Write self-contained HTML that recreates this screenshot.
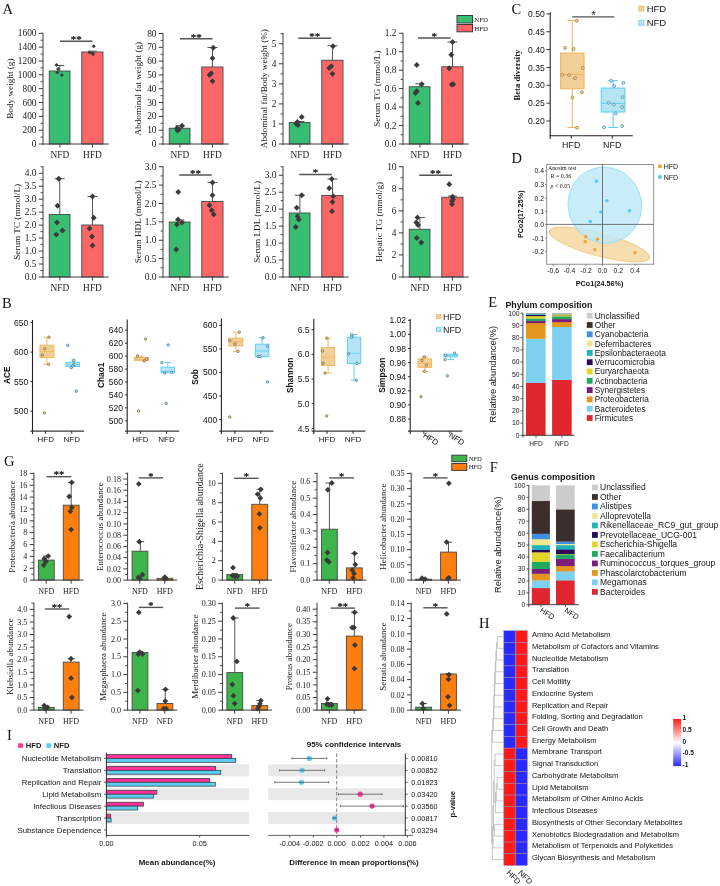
<!DOCTYPE html>
<html lang="en"><head><meta charset="utf-8"><title>Figure</title>
<style>
html,body{margin:0;padding:0;background:#fff}
svg{display:block}
.sf{font-family:"Liberation Serif",serif}
.ss{font-family:"Liberation Sans",sans-serif}

</style></head><body>
<svg width="720" height="886" viewBox="0 0 720 886">
<rect x="0" y="0" width="720" height="886" fill="#ffffff"/>
<rect x="49.25" y="71" width="20.75" height="73" fill="#38bd72" stroke="#484848" stroke-width="0.9"/>
<rect x="81.75" y="52" width="21.25" height="92" fill="#ff6666" stroke="#484848" stroke-width="0.9"/>
<line x1="59.75" y1="65.5" x2="59.75" y2="71" stroke="#555" stroke-width="1"/>
<line x1="55.25" y1="65.5" x2="64.25" y2="65.5" stroke="#555" stroke-width="1"/>
<line x1="92.5" y1="51.2" x2="92.5" y2="52" stroke="#555" stroke-width="1"/>
<line x1="88" y1="51.2" x2="97" y2="51.2" stroke="#555" stroke-width="1"/>
<path d="M56.5 63.1L58.5 65.1L56.5 67.1L54.5 65.1Z" fill="#3a3a3a"/>
<path d="M58.1 67.1L60.1 69.1L58.1 71.1L56.1 69.1Z" fill="#3a3a3a"/>
<path d="M57.4 70.4L59.4 72.4L57.4 74.4L55.4 72.4Z" fill="#3a3a3a"/>
<path d="M61.9 73.1L63.9 75.1L61.9 77.1L59.9 75.1Z" fill="#3a3a3a"/>
<path d="M93.75 44.25L95.75 46.25L93.75 48.25L91.75 46.25Z" fill="#3a3a3a"/>
<path d="M89.5 50.5L91.5 52.5L89.5 54.5L87.5 52.5Z" fill="#3a3a3a"/>
<path d="M92.5 51.25L94.5 53.25L92.5 55.25L90.5 53.25Z" fill="#3a3a3a"/>
<path d="M93 52.25L95 54.25L93 56.25L91 54.25Z" fill="#3a3a3a"/>
<line x1="43" y1="32.8" x2="43" y2="144.5" stroke="#3c3c3c" stroke-width="1"/>
<line x1="42.5" y1="144" x2="108.75" y2="144" stroke="#3c3c3c" stroke-width="1"/>
<line x1="38.8" y1="144" x2="43" y2="144" stroke="#3c3c3c" stroke-width="1"/>
<text x="36.5" y="147.1" font-size="9.4" text-anchor="end" class="sf" fill="#1a1a1a">0</text>
<line x1="38.8" y1="130.16" x2="43" y2="130.16" stroke="#3c3c3c" stroke-width="1"/>
<text x="36.5" y="133.26" font-size="9.4" text-anchor="end" class="sf" fill="#1a1a1a">200</text>
<line x1="38.8" y1="116.33" x2="43" y2="116.33" stroke="#3c3c3c" stroke-width="1"/>
<text x="36.5" y="119.43" font-size="9.4" text-anchor="end" class="sf" fill="#1a1a1a">400</text>
<line x1="38.8" y1="102.49" x2="43" y2="102.49" stroke="#3c3c3c" stroke-width="1"/>
<text x="36.5" y="105.59" font-size="9.4" text-anchor="end" class="sf" fill="#1a1a1a">600</text>
<line x1="38.8" y1="88.65" x2="43" y2="88.65" stroke="#3c3c3c" stroke-width="1"/>
<text x="36.5" y="91.75" font-size="9.4" text-anchor="end" class="sf" fill="#1a1a1a">800</text>
<line x1="38.8" y1="74.81" x2="43" y2="74.81" stroke="#3c3c3c" stroke-width="1"/>
<text x="36.5" y="77.91" font-size="9.4" text-anchor="end" class="sf" fill="#1a1a1a">1000</text>
<line x1="38.8" y1="60.97" x2="43" y2="60.97" stroke="#3c3c3c" stroke-width="1"/>
<text x="36.5" y="64.08" font-size="9.4" text-anchor="end" class="sf" fill="#1a1a1a">1200</text>
<line x1="38.8" y1="47.14" x2="43" y2="47.14" stroke="#3c3c3c" stroke-width="1"/>
<text x="36.5" y="50.24" font-size="9.4" text-anchor="end" class="sf" fill="#1a1a1a">1400</text>
<line x1="38.8" y1="33.3" x2="43" y2="33.3" stroke="#3c3c3c" stroke-width="1"/>
<text x="36.5" y="36.4" font-size="9.4" text-anchor="end" class="sf" fill="#1a1a1a">1600</text>
<line x1="40.5" y1="137.08" x2="43" y2="137.08" stroke="#3c3c3c" stroke-width="0.9"/>
<line x1="40.5" y1="123.24" x2="43" y2="123.24" stroke="#3c3c3c" stroke-width="0.9"/>
<line x1="40.5" y1="109.41" x2="43" y2="109.41" stroke="#3c3c3c" stroke-width="0.9"/>
<line x1="40.5" y1="95.57" x2="43" y2="95.57" stroke="#3c3c3c" stroke-width="0.9"/>
<line x1="40.5" y1="81.73" x2="43" y2="81.73" stroke="#3c3c3c" stroke-width="0.9"/>
<line x1="40.5" y1="67.89" x2="43" y2="67.89" stroke="#3c3c3c" stroke-width="0.9"/>
<line x1="40.5" y1="54.06" x2="43" y2="54.06" stroke="#3c3c3c" stroke-width="0.9"/>
<line x1="40.5" y1="40.22" x2="43" y2="40.22" stroke="#3c3c3c" stroke-width="0.9"/>
<line x1="59.9" y1="144" x2="59.9" y2="147.6" stroke="#3c3c3c" stroke-width="1"/>
<text x="59.9" y="157.5" font-size="9.4" text-anchor="middle" class="sf" fill="#1a1a1a">NFD</text>
<line x1="92.5" y1="144" x2="92.5" y2="147.6" stroke="#3c3c3c" stroke-width="1"/>
<text x="92.5" y="157.5" font-size="9.4" text-anchor="middle" class="sf" fill="#1a1a1a">HFD</text>
<line x1="60" y1="41.25" x2="92.5" y2="41.25" stroke="#555" stroke-width="1.4"/>
<text x="76.25" y="43.12" font-size="11" text-anchor="middle" class="sf" fill="#1a1a1a" stroke="#1a1a1a" stroke-width="0.25">**</text>
<text x="13.1" y="88.65" font-size="9.2" text-anchor="middle" class="sf" fill="#1a1a1a" transform="rotate(-90 13.1 88.65)">Body weight (g)</text>
<rect x="169.25" y="128.25" width="20.75" height="15.75" fill="#38bd72" stroke="#484848" stroke-width="0.9"/>
<rect x="201.75" y="67" width="21.25" height="77" fill="#ff6666" stroke="#484848" stroke-width="0.9"/>
<line x1="179.9" y1="125.75" x2="179.9" y2="128.25" stroke="#555" stroke-width="1"/>
<line x1="175.4" y1="125.75" x2="184.4" y2="125.75" stroke="#555" stroke-width="1"/>
<line x1="212.5" y1="47.5" x2="212.5" y2="67" stroke="#555" stroke-width="1"/>
<line x1="207.5" y1="47.5" x2="217.5" y2="47.5" stroke="#555" stroke-width="1"/>
<path d="M182 122.85L184.9 125.75L182 128.65L179.1 125.75Z" fill="#3a3a3a"/>
<path d="M177 125.35L179.9 128.25L177 131.15L174.1 128.25Z" fill="#3a3a3a"/>
<path d="M178.75 126.6L181.65 129.5L178.75 132.4L175.85 129.5Z" fill="#3a3a3a"/>
<path d="M177.5 127.6L180.4 130.5L177.5 133.4L174.6 130.5Z" fill="#3a3a3a"/>
<path d="M213.25 44.85L216.15 47.75L213.25 50.65L210.35 47.75Z" fill="#3a3a3a"/>
<path d="M212.5 55.35L215.4 58.25L212.5 61.15L209.6 58.25Z" fill="#3a3a3a"/>
<path d="M211.25 70.35L214.15 73.25L211.25 76.15L208.35 73.25Z" fill="#3a3a3a"/>
<path d="M209.5 72.1L212.4 75L209.5 77.9L206.6 75Z" fill="#3a3a3a"/>
<path d="M212.5 78.35L215.4 81.25L212.5 84.15L209.6 81.25Z" fill="#3a3a3a"/>
<line x1="163" y1="32.8" x2="163" y2="144.5" stroke="#3c3c3c" stroke-width="1"/>
<line x1="162.5" y1="144" x2="228.75" y2="144" stroke="#3c3c3c" stroke-width="1"/>
<line x1="158.8" y1="144" x2="163" y2="144" stroke="#3c3c3c" stroke-width="1"/>
<text x="156.5" y="147.1" font-size="9.4" text-anchor="end" class="sf" fill="#1a1a1a">0</text>
<line x1="158.8" y1="130.19" x2="163" y2="130.19" stroke="#3c3c3c" stroke-width="1"/>
<text x="156.5" y="133.29" font-size="9.4" text-anchor="end" class="sf" fill="#1a1a1a">10</text>
<line x1="158.8" y1="116.38" x2="163" y2="116.38" stroke="#3c3c3c" stroke-width="1"/>
<text x="156.5" y="119.48" font-size="9.4" text-anchor="end" class="sf" fill="#1a1a1a">20</text>
<line x1="158.8" y1="102.56" x2="163" y2="102.56" stroke="#3c3c3c" stroke-width="1"/>
<text x="156.5" y="105.66" font-size="9.4" text-anchor="end" class="sf" fill="#1a1a1a">30</text>
<line x1="158.8" y1="88.75" x2="163" y2="88.75" stroke="#3c3c3c" stroke-width="1"/>
<text x="156.5" y="91.85" font-size="9.4" text-anchor="end" class="sf" fill="#1a1a1a">40</text>
<line x1="158.8" y1="74.94" x2="163" y2="74.94" stroke="#3c3c3c" stroke-width="1"/>
<text x="156.5" y="78.04" font-size="9.4" text-anchor="end" class="sf" fill="#1a1a1a">50</text>
<line x1="158.8" y1="61.12" x2="163" y2="61.12" stroke="#3c3c3c" stroke-width="1"/>
<text x="156.5" y="64.23" font-size="9.4" text-anchor="end" class="sf" fill="#1a1a1a">60</text>
<line x1="158.8" y1="47.31" x2="163" y2="47.31" stroke="#3c3c3c" stroke-width="1"/>
<text x="156.5" y="50.41" font-size="9.4" text-anchor="end" class="sf" fill="#1a1a1a">70</text>
<line x1="158.8" y1="33.5" x2="163" y2="33.5" stroke="#3c3c3c" stroke-width="1"/>
<text x="156.5" y="36.6" font-size="9.4" text-anchor="end" class="sf" fill="#1a1a1a">80</text>
<line x1="160.5" y1="137.09" x2="163" y2="137.09" stroke="#3c3c3c" stroke-width="0.9"/>
<line x1="160.5" y1="123.28" x2="163" y2="123.28" stroke="#3c3c3c" stroke-width="0.9"/>
<line x1="160.5" y1="109.47" x2="163" y2="109.47" stroke="#3c3c3c" stroke-width="0.9"/>
<line x1="160.5" y1="95.66" x2="163" y2="95.66" stroke="#3c3c3c" stroke-width="0.9"/>
<line x1="160.5" y1="81.84" x2="163" y2="81.84" stroke="#3c3c3c" stroke-width="0.9"/>
<line x1="160.5" y1="68.03" x2="163" y2="68.03" stroke="#3c3c3c" stroke-width="0.9"/>
<line x1="160.5" y1="54.22" x2="163" y2="54.22" stroke="#3c3c3c" stroke-width="0.9"/>
<line x1="160.5" y1="40.41" x2="163" y2="40.41" stroke="#3c3c3c" stroke-width="0.9"/>
<line x1="179.9" y1="144" x2="179.9" y2="147.6" stroke="#3c3c3c" stroke-width="1"/>
<text x="179.9" y="157.5" font-size="9.4" text-anchor="middle" class="sf" fill="#1a1a1a">NFD</text>
<line x1="212.5" y1="144" x2="212.5" y2="147.6" stroke="#3c3c3c" stroke-width="1"/>
<text x="212.5" y="157.5" font-size="9.4" text-anchor="middle" class="sf" fill="#1a1a1a">HFD</text>
<line x1="180" y1="38.75" x2="212.5" y2="38.75" stroke="#555" stroke-width="1.4"/>
<text x="196.25" y="40.62" font-size="11" text-anchor="middle" class="sf" fill="#1a1a1a" stroke="#1a1a1a" stroke-width="0.25">**</text>
<text x="141.1" y="88.65" font-size="9.2" text-anchor="middle" class="sf" fill="#1a1a1a" transform="rotate(-90 141.1 88.65)">Abdominal fat weight (g)</text>
<rect x="289.25" y="122.5" width="20.75" height="21.5" fill="#38bd72" stroke="#484848" stroke-width="0.9"/>
<rect x="321.75" y="60.25" width="21.25" height="83.75" fill="#ff6666" stroke="#484848" stroke-width="0.9"/>
<line x1="299.9" y1="121.5" x2="299.9" y2="122.5" stroke="#555" stroke-width="1"/>
<line x1="295.4" y1="121.5" x2="304.4" y2="121.5" stroke="#555" stroke-width="1"/>
<line x1="332.5" y1="45.75" x2="332.5" y2="60.25" stroke="#555" stroke-width="1"/>
<line x1="327.5" y1="45.75" x2="337.5" y2="45.75" stroke="#555" stroke-width="1"/>
<path d="M301.75 114.1L304.65 117L301.75 119.9L298.85 117Z" fill="#3a3a3a"/>
<path d="M297.5 119.1L300.4 122L297.5 124.9L294.6 122Z" fill="#3a3a3a"/>
<path d="M296.25 120.85L299.15 123.75L296.25 126.65L293.35 123.75Z" fill="#3a3a3a"/>
<path d="M298 122.1L300.9 125L298 127.9L295.1 125Z" fill="#3a3a3a"/>
<path d="M333 43.35L335.9 46.25L333 49.15L330.1 46.25Z" fill="#3a3a3a"/>
<path d="M331.25 63.35L334.15 66.25L331.25 69.15L328.35 66.25Z" fill="#3a3a3a"/>
<path d="M329.25 65.1L332.15 68L329.25 70.9L326.35 68Z" fill="#3a3a3a"/>
<path d="M332.5 70.85L335.4 73.75L332.5 76.65L329.6 73.75Z" fill="#3a3a3a"/>
<line x1="283" y1="32.8" x2="283" y2="144.5" stroke="#3c3c3c" stroke-width="1"/>
<line x1="282.5" y1="144" x2="348.75" y2="144" stroke="#3c3c3c" stroke-width="1"/>
<line x1="278.8" y1="144" x2="283" y2="144" stroke="#3c3c3c" stroke-width="1"/>
<text x="276.5" y="147.1" font-size="9.4" text-anchor="end" class="sf" fill="#1a1a1a">0</text>
<line x1="278.8" y1="123.95" x2="283" y2="123.95" stroke="#3c3c3c" stroke-width="1"/>
<text x="276.5" y="127.05" font-size="9.4" text-anchor="end" class="sf" fill="#1a1a1a">1</text>
<line x1="278.8" y1="103.9" x2="283" y2="103.9" stroke="#3c3c3c" stroke-width="1"/>
<text x="276.5" y="107" font-size="9.4" text-anchor="end" class="sf" fill="#1a1a1a">2</text>
<line x1="278.8" y1="83.85" x2="283" y2="83.85" stroke="#3c3c3c" stroke-width="1"/>
<text x="276.5" y="86.95" font-size="9.4" text-anchor="end" class="sf" fill="#1a1a1a">3</text>
<line x1="278.8" y1="63.8" x2="283" y2="63.8" stroke="#3c3c3c" stroke-width="1"/>
<text x="276.5" y="66.9" font-size="9.4" text-anchor="end" class="sf" fill="#1a1a1a">4</text>
<line x1="278.8" y1="43.75" x2="283" y2="43.75" stroke="#3c3c3c" stroke-width="1"/>
<text x="276.5" y="46.85" font-size="9.4" text-anchor="end" class="sf" fill="#1a1a1a">5</text>
<line x1="280.5" y1="133.97" x2="283" y2="133.97" stroke="#3c3c3c" stroke-width="0.9"/>
<line x1="280.5" y1="113.92" x2="283" y2="113.92" stroke="#3c3c3c" stroke-width="0.9"/>
<line x1="280.5" y1="93.88" x2="283" y2="93.88" stroke="#3c3c3c" stroke-width="0.9"/>
<line x1="280.5" y1="73.83" x2="283" y2="73.83" stroke="#3c3c3c" stroke-width="0.9"/>
<line x1="280.5" y1="53.78" x2="283" y2="53.78" stroke="#3c3c3c" stroke-width="0.9"/>
<line x1="280.5" y1="33.72" x2="283" y2="33.72" stroke="#3c3c3c" stroke-width="0.9"/>
<line x1="299.9" y1="144" x2="299.9" y2="147.6" stroke="#3c3c3c" stroke-width="1"/>
<text x="299.9" y="157.5" font-size="9.4" text-anchor="middle" class="sf" fill="#1a1a1a">NFD</text>
<line x1="332.5" y1="144" x2="332.5" y2="147.6" stroke="#3c3c3c" stroke-width="1"/>
<text x="332.5" y="157.5" font-size="9.4" text-anchor="middle" class="sf" fill="#1a1a1a">HFD</text>
<line x1="298.25" y1="38.25" x2="331.25" y2="38.25" stroke="#555" stroke-width="1.4"/>
<text x="314.75" y="40.12" font-size="11" text-anchor="middle" class="sf" fill="#1a1a1a" stroke="#1a1a1a" stroke-width="0.25">**</text>
<text x="266.8" y="88.65" font-size="9.2" text-anchor="middle" class="sf" fill="#1a1a1a" transform="rotate(-90 266.8 88.65)">Abdominal fat/Body weight (%)</text>
<rect x="409.25" y="86.75" width="20.75" height="57.25" fill="#38bd72" stroke="#484848" stroke-width="0.9"/>
<rect x="441.75" y="66.75" width="21.25" height="77.25" fill="#ff6666" stroke="#484848" stroke-width="0.9"/>
<line x1="419.9" y1="83.75" x2="419.9" y2="86.75" stroke="#555" stroke-width="1"/>
<line x1="415.4" y1="83.75" x2="424.4" y2="83.75" stroke="#555" stroke-width="1"/>
<line x1="452.5" y1="42" x2="452.5" y2="66.75" stroke="#555" stroke-width="1"/>
<line x1="447.5" y1="42" x2="457.5" y2="42" stroke="#555" stroke-width="1"/>
<path d="M416.75 62.1L419.65 65L416.75 67.9L413.85 65Z" fill="#3a3a3a"/>
<path d="M421.75 81.35L424.65 84.25L421.75 87.15L418.85 84.25Z" fill="#3a3a3a"/>
<path d="M416.75 88.35L419.65 91.25L416.75 94.15L413.85 91.25Z" fill="#3a3a3a"/>
<path d="M415.5 90.1L418.4 93L415.5 95.9L412.6 93Z" fill="#3a3a3a"/>
<path d="M418 100.1L420.9 103L418 105.9L415.1 103Z" fill="#3a3a3a"/>
<path d="M452.5 39.1L455.4 42L452.5 44.9L449.6 42Z" fill="#3a3a3a"/>
<path d="M451.25 51.85L454.15 54.75L451.25 57.65L448.35 54.75Z" fill="#3a3a3a"/>
<path d="M449.25 65.35L452.15 68.25L449.25 71.15L446.35 68.25Z" fill="#3a3a3a"/>
<path d="M451.75 81.6L454.65 84.5L451.75 87.4L448.85 84.5Z" fill="#3a3a3a"/>
<path d="M453.25 81.35L456.15 84.25L453.25 87.15L450.35 84.25Z" fill="#3a3a3a"/>
<line x1="403" y1="32.8" x2="403" y2="144.5" stroke="#3c3c3c" stroke-width="1"/>
<line x1="402.5" y1="144" x2="468.75" y2="144" stroke="#3c3c3c" stroke-width="1"/>
<line x1="398.8" y1="144" x2="403" y2="144" stroke="#3c3c3c" stroke-width="1"/>
<text x="396.5" y="147.1" font-size="9.4" text-anchor="end" class="sf" fill="#1a1a1a">0.0</text>
<line x1="398.8" y1="125.54" x2="403" y2="125.54" stroke="#3c3c3c" stroke-width="1"/>
<text x="396.5" y="128.64" font-size="9.4" text-anchor="end" class="sf" fill="#1a1a1a">0.2</text>
<line x1="398.8" y1="107.08" x2="403" y2="107.08" stroke="#3c3c3c" stroke-width="1"/>
<text x="396.5" y="110.19" font-size="9.4" text-anchor="end" class="sf" fill="#1a1a1a">0.4</text>
<line x1="398.8" y1="88.62" x2="403" y2="88.62" stroke="#3c3c3c" stroke-width="1"/>
<text x="396.5" y="91.73" font-size="9.4" text-anchor="end" class="sf" fill="#1a1a1a">0.6</text>
<line x1="398.8" y1="70.17" x2="403" y2="70.17" stroke="#3c3c3c" stroke-width="1"/>
<text x="396.5" y="73.27" font-size="9.4" text-anchor="end" class="sf" fill="#1a1a1a">0.8</text>
<line x1="398.8" y1="51.71" x2="403" y2="51.71" stroke="#3c3c3c" stroke-width="1"/>
<text x="396.5" y="54.81" font-size="9.4" text-anchor="end" class="sf" fill="#1a1a1a">1.0</text>
<line x1="398.8" y1="33.25" x2="403" y2="33.25" stroke="#3c3c3c" stroke-width="1"/>
<text x="396.5" y="36.35" font-size="9.4" text-anchor="end" class="sf" fill="#1a1a1a">1.2</text>
<line x1="400.5" y1="134.77" x2="403" y2="134.77" stroke="#3c3c3c" stroke-width="0.9"/>
<line x1="400.5" y1="116.31" x2="403" y2="116.31" stroke="#3c3c3c" stroke-width="0.9"/>
<line x1="400.5" y1="97.85" x2="403" y2="97.85" stroke="#3c3c3c" stroke-width="0.9"/>
<line x1="400.5" y1="79.4" x2="403" y2="79.4" stroke="#3c3c3c" stroke-width="0.9"/>
<line x1="400.5" y1="60.94" x2="403" y2="60.94" stroke="#3c3c3c" stroke-width="0.9"/>
<line x1="400.5" y1="42.48" x2="403" y2="42.48" stroke="#3c3c3c" stroke-width="0.9"/>
<line x1="419.9" y1="144" x2="419.9" y2="147.6" stroke="#3c3c3c" stroke-width="1"/>
<text x="419.9" y="157.5" font-size="9.4" text-anchor="middle" class="sf" fill="#1a1a1a">NFD</text>
<line x1="452.5" y1="144" x2="452.5" y2="147.6" stroke="#3c3c3c" stroke-width="1"/>
<text x="452.5" y="157.5" font-size="9.4" text-anchor="middle" class="sf" fill="#1a1a1a">HFD</text>
<line x1="418" y1="38" x2="450.5" y2="38" stroke="#555" stroke-width="1.4"/>
<text x="434.25" y="39.87" font-size="11" text-anchor="middle" class="sf" fill="#1a1a1a" stroke="#1a1a1a" stroke-width="0.25">*</text>
<text x="379.6" y="88.65" font-size="9.2" text-anchor="middle" class="sf" fill="#1a1a1a" transform="rotate(-90 379.6 88.65)">Serum TG (mmol/L)</text>
<rect x="49.25" y="214.5" width="20.75" height="62.5" fill="#38bd72" stroke="#484848" stroke-width="0.9"/>
<rect x="81.75" y="225" width="21.25" height="52" fill="#ff6666" stroke="#484848" stroke-width="0.9"/>
<line x1="59.75" y1="178.75" x2="59.75" y2="214.5" stroke="#555" stroke-width="1"/>
<line x1="54.75" y1="178.75" x2="64.75" y2="178.75" stroke="#555" stroke-width="1"/>
<line x1="92.5" y1="196.5" x2="92.5" y2="225" stroke="#555" stroke-width="1"/>
<line x1="87.5" y1="196.5" x2="97.5" y2="196.5" stroke="#555" stroke-width="1"/>
<path d="M58.75 175.85L61.65 178.75L58.75 181.65L55.85 178.75Z" fill="#3a3a3a"/>
<path d="M57.5 202.85L60.4 205.75L57.5 208.65L54.6 205.75Z" fill="#3a3a3a"/>
<path d="M57 219.6L59.9 222.5L57 225.4L54.1 222.5Z" fill="#3a3a3a"/>
<path d="M62.5 227.6L65.4 230.5L62.5 233.4L59.6 230.5Z" fill="#3a3a3a"/>
<path d="M56.25 231.6L59.15 234.5L56.25 237.4L53.35 234.5Z" fill="#3a3a3a"/>
<path d="M92.5 193.6L95.4 196.5L92.5 199.4L89.6 196.5Z" fill="#3a3a3a"/>
<path d="M93.75 214.85L96.65 217.75L93.75 220.65L90.85 217.75Z" fill="#3a3a3a"/>
<path d="M89.5 225.6L92.4 228.5L89.5 231.4L86.6 228.5Z" fill="#3a3a3a"/>
<path d="M92 233.6L94.9 236.5L92 239.4L89.1 236.5Z" fill="#3a3a3a"/>
<path d="M92.5 242.6L95.4 245.5L92.5 248.4L89.6 245.5Z" fill="#3a3a3a"/>
<line x1="43" y1="166.25" x2="43" y2="277.5" stroke="#3c3c3c" stroke-width="1"/>
<line x1="42.5" y1="277" x2="108.75" y2="277" stroke="#3c3c3c" stroke-width="1"/>
<line x1="38.8" y1="277" x2="43" y2="277" stroke="#3c3c3c" stroke-width="1"/>
<text x="36.5" y="280.1" font-size="9.4" text-anchor="end" class="sf" fill="#1a1a1a">0.0</text>
<line x1="38.8" y1="264.03" x2="43" y2="264.03" stroke="#3c3c3c" stroke-width="1"/>
<text x="36.5" y="267.13" font-size="9.4" text-anchor="end" class="sf" fill="#1a1a1a">0.5</text>
<line x1="38.8" y1="251.06" x2="43" y2="251.06" stroke="#3c3c3c" stroke-width="1"/>
<text x="36.5" y="254.16" font-size="9.4" text-anchor="end" class="sf" fill="#1a1a1a">1.0</text>
<line x1="38.8" y1="238.09" x2="43" y2="238.09" stroke="#3c3c3c" stroke-width="1"/>
<text x="36.5" y="241.2" font-size="9.4" text-anchor="end" class="sf" fill="#1a1a1a">1.5</text>
<line x1="38.8" y1="225.12" x2="43" y2="225.12" stroke="#3c3c3c" stroke-width="1"/>
<text x="36.5" y="228.23" font-size="9.4" text-anchor="end" class="sf" fill="#1a1a1a">2.0</text>
<line x1="38.8" y1="212.16" x2="43" y2="212.16" stroke="#3c3c3c" stroke-width="1"/>
<text x="36.5" y="215.26" font-size="9.4" text-anchor="end" class="sf" fill="#1a1a1a">2.5</text>
<line x1="38.8" y1="199.19" x2="43" y2="199.19" stroke="#3c3c3c" stroke-width="1"/>
<text x="36.5" y="202.29" font-size="9.4" text-anchor="end" class="sf" fill="#1a1a1a">3.0</text>
<line x1="38.8" y1="186.22" x2="43" y2="186.22" stroke="#3c3c3c" stroke-width="1"/>
<text x="36.5" y="189.32" font-size="9.4" text-anchor="end" class="sf" fill="#1a1a1a">3.5</text>
<line x1="38.8" y1="173.25" x2="43" y2="173.25" stroke="#3c3c3c" stroke-width="1"/>
<text x="36.5" y="176.35" font-size="9.4" text-anchor="end" class="sf" fill="#1a1a1a">4.0</text>
<line x1="40.5" y1="270.52" x2="43" y2="270.52" stroke="#3c3c3c" stroke-width="0.9"/>
<line x1="40.5" y1="257.55" x2="43" y2="257.55" stroke="#3c3c3c" stroke-width="0.9"/>
<line x1="40.5" y1="244.58" x2="43" y2="244.58" stroke="#3c3c3c" stroke-width="0.9"/>
<line x1="40.5" y1="231.61" x2="43" y2="231.61" stroke="#3c3c3c" stroke-width="0.9"/>
<line x1="40.5" y1="218.64" x2="43" y2="218.64" stroke="#3c3c3c" stroke-width="0.9"/>
<line x1="40.5" y1="205.67" x2="43" y2="205.67" stroke="#3c3c3c" stroke-width="0.9"/>
<line x1="40.5" y1="192.7" x2="43" y2="192.7" stroke="#3c3c3c" stroke-width="0.9"/>
<line x1="40.5" y1="179.73" x2="43" y2="179.73" stroke="#3c3c3c" stroke-width="0.9"/>
<line x1="40.5" y1="166.77" x2="43" y2="166.77" stroke="#3c3c3c" stroke-width="0.9"/>
<line x1="59.9" y1="277" x2="59.9" y2="280.6" stroke="#3c3c3c" stroke-width="1"/>
<text x="59.9" y="290.5" font-size="9.4" text-anchor="middle" class="sf" fill="#1a1a1a">NFD</text>
<line x1="92.5" y1="277" x2="92.5" y2="280.6" stroke="#3c3c3c" stroke-width="1"/>
<text x="92.5" y="290.5" font-size="9.4" text-anchor="middle" class="sf" fill="#1a1a1a">HFD</text>
<text x="19.6" y="221.88" font-size="9.2" text-anchor="middle" class="sf" fill="#1a1a1a" transform="rotate(-90 19.6 221.88)">Serum TC (mmol/L)</text>
<rect x="169.25" y="222" width="20.75" height="55" fill="#38bd72" stroke="#484848" stroke-width="0.9"/>
<rect x="201.75" y="201.5" width="21.25" height="75.5" fill="#ff6666" stroke="#484848" stroke-width="0.9"/>
<line x1="179.9" y1="220" x2="179.9" y2="222" stroke="#555" stroke-width="1"/>
<line x1="175.4" y1="220" x2="184.4" y2="220" stroke="#555" stroke-width="1"/>
<line x1="212.5" y1="182.5" x2="212.5" y2="201.5" stroke="#555" stroke-width="1"/>
<line x1="207.5" y1="182.5" x2="217.5" y2="182.5" stroke="#555" stroke-width="1"/>
<path d="M178.25 189.1L181.15 192L178.25 194.9L175.35 192Z" fill="#3a3a3a"/>
<path d="M178 216.6L180.9 219.5L178 222.4L175.1 219.5Z" fill="#3a3a3a"/>
<path d="M177 221.6L179.9 224.5L177 227.4L174.1 224.5Z" fill="#3a3a3a"/>
<path d="M182 219.6L184.9 222.5L182 225.4L179.1 222.5Z" fill="#3a3a3a"/>
<path d="M176.25 246.6L179.15 249.5L176.25 252.4L173.35 249.5Z" fill="#3a3a3a"/>
<path d="M212.5 179.6L215.4 182.5L212.5 185.4L209.6 182.5Z" fill="#3a3a3a"/>
<path d="M212.5 192.35L215.4 195.25L212.5 198.15L209.6 195.25Z" fill="#3a3a3a"/>
<path d="M209.5 202.35L212.4 205.25L209.5 208.15L206.6 205.25Z" fill="#3a3a3a"/>
<path d="M211.75 207.35L214.65 210.25L211.75 213.15L208.85 210.25Z" fill="#3a3a3a"/>
<path d="M213.75 211.6L216.65 214.5L213.75 217.4L210.85 214.5Z" fill="#3a3a3a"/>
<line x1="163" y1="166.25" x2="163" y2="277.5" stroke="#3c3c3c" stroke-width="1"/>
<line x1="162.5" y1="277" x2="228.75" y2="277" stroke="#3c3c3c" stroke-width="1"/>
<line x1="158.8" y1="277" x2="163" y2="277" stroke="#3c3c3c" stroke-width="1"/>
<text x="156.5" y="280.1" font-size="9.4" text-anchor="end" class="sf" fill="#1a1a1a">0.0</text>
<line x1="158.8" y1="258.62" x2="163" y2="258.62" stroke="#3c3c3c" stroke-width="1"/>
<text x="156.5" y="261.73" font-size="9.4" text-anchor="end" class="sf" fill="#1a1a1a">0.5</text>
<line x1="158.8" y1="240.25" x2="163" y2="240.25" stroke="#3c3c3c" stroke-width="1"/>
<text x="156.5" y="243.35" font-size="9.4" text-anchor="end" class="sf" fill="#1a1a1a">1.0</text>
<line x1="158.8" y1="221.88" x2="163" y2="221.88" stroke="#3c3c3c" stroke-width="1"/>
<text x="156.5" y="224.98" font-size="9.4" text-anchor="end" class="sf" fill="#1a1a1a">1.5</text>
<line x1="158.8" y1="203.5" x2="163" y2="203.5" stroke="#3c3c3c" stroke-width="1"/>
<text x="156.5" y="206.6" font-size="9.4" text-anchor="end" class="sf" fill="#1a1a1a">2.0</text>
<line x1="158.8" y1="185.12" x2="163" y2="185.12" stroke="#3c3c3c" stroke-width="1"/>
<text x="156.5" y="188.23" font-size="9.4" text-anchor="end" class="sf" fill="#1a1a1a">2.5</text>
<line x1="158.8" y1="166.75" x2="163" y2="166.75" stroke="#3c3c3c" stroke-width="1"/>
<text x="156.5" y="169.85" font-size="9.4" text-anchor="end" class="sf" fill="#1a1a1a">3.0</text>
<line x1="160.5" y1="267.81" x2="163" y2="267.81" stroke="#3c3c3c" stroke-width="0.9"/>
<line x1="160.5" y1="249.44" x2="163" y2="249.44" stroke="#3c3c3c" stroke-width="0.9"/>
<line x1="160.5" y1="231.06" x2="163" y2="231.06" stroke="#3c3c3c" stroke-width="0.9"/>
<line x1="160.5" y1="212.69" x2="163" y2="212.69" stroke="#3c3c3c" stroke-width="0.9"/>
<line x1="160.5" y1="194.31" x2="163" y2="194.31" stroke="#3c3c3c" stroke-width="0.9"/>
<line x1="160.5" y1="175.94" x2="163" y2="175.94" stroke="#3c3c3c" stroke-width="0.9"/>
<line x1="179.9" y1="277" x2="179.9" y2="280.6" stroke="#3c3c3c" stroke-width="1"/>
<text x="179.9" y="290.5" font-size="9.4" text-anchor="middle" class="sf" fill="#1a1a1a">NFD</text>
<line x1="212.5" y1="277" x2="212.5" y2="280.6" stroke="#3c3c3c" stroke-width="1"/>
<text x="212.5" y="290.5" font-size="9.4" text-anchor="middle" class="sf" fill="#1a1a1a">HFD</text>
<line x1="179.25" y1="175" x2="211.75" y2="175" stroke="#555" stroke-width="1.4"/>
<text x="195.5" y="176.87" font-size="11" text-anchor="middle" class="sf" fill="#1a1a1a" stroke="#1a1a1a" stroke-width="0.25">**</text>
<text x="141.1" y="221.88" font-size="9.2" text-anchor="middle" class="sf" fill="#1a1a1a" transform="rotate(-90 141.1 221.88)">Serum HDL (mmol/L)</text>
<rect x="289.25" y="213" width="20.75" height="64" fill="#38bd72" stroke="#484848" stroke-width="0.9"/>
<rect x="321.75" y="195.5" width="21.25" height="81.5" fill="#ff6666" stroke="#484848" stroke-width="0.9"/>
<line x1="299.9" y1="195.25" x2="299.9" y2="213" stroke="#555" stroke-width="1"/>
<line x1="294.9" y1="195.25" x2="304.9" y2="195.25" stroke="#555" stroke-width="1"/>
<line x1="332.5" y1="179" x2="332.5" y2="195.5" stroke="#555" stroke-width="1"/>
<line x1="327.5" y1="179" x2="337.5" y2="179" stroke="#555" stroke-width="1"/>
<path d="M301.75 192.35L304.65 195.25L301.75 198.15L298.85 195.25Z" fill="#3a3a3a"/>
<path d="M296.75 204.85L299.65 207.75L296.75 210.65L293.85 207.75Z" fill="#3a3a3a"/>
<path d="M297.5 213.35L300.4 216.25L297.5 219.15L294.6 216.25Z" fill="#3a3a3a"/>
<path d="M298.75 216.6L301.65 219.5L298.75 222.4L295.85 219.5Z" fill="#3a3a3a"/>
<path d="M295.75 224.1L298.65 227L295.75 229.9L292.85 227Z" fill="#3a3a3a"/>
<path d="M331.75 176.1L334.65 179L331.75 181.9L328.85 179Z" fill="#3a3a3a"/>
<path d="M329.25 185.35L332.15 188.25L329.25 191.15L326.35 188.25Z" fill="#3a3a3a"/>
<path d="M333.25 193.35L336.15 196.25L333.25 199.15L330.35 196.25Z" fill="#3a3a3a"/>
<path d="M332.5 199.1L335.4 202L332.5 204.9L329.6 202Z" fill="#3a3a3a"/>
<path d="M332 208.35L334.9 211.25L332 214.15L329.1 211.25Z" fill="#3a3a3a"/>
<line x1="283" y1="166.25" x2="283" y2="277.5" stroke="#3c3c3c" stroke-width="1"/>
<line x1="282.5" y1="277" x2="348.75" y2="277" stroke="#3c3c3c" stroke-width="1"/>
<line x1="278.8" y1="277" x2="283" y2="277" stroke="#3c3c3c" stroke-width="1"/>
<text x="276.5" y="280.1" font-size="9.4" text-anchor="end" class="sf" fill="#1a1a1a">0.0</text>
<line x1="278.8" y1="260.04" x2="283" y2="260.04" stroke="#3c3c3c" stroke-width="1"/>
<text x="276.5" y="263.14" font-size="9.4" text-anchor="end" class="sf" fill="#1a1a1a">0.5</text>
<line x1="278.8" y1="243.08" x2="283" y2="243.08" stroke="#3c3c3c" stroke-width="1"/>
<text x="276.5" y="246.19" font-size="9.4" text-anchor="end" class="sf" fill="#1a1a1a">1.0</text>
<line x1="278.8" y1="226.12" x2="283" y2="226.12" stroke="#3c3c3c" stroke-width="1"/>
<text x="276.5" y="229.23" font-size="9.4" text-anchor="end" class="sf" fill="#1a1a1a">1.5</text>
<line x1="278.8" y1="209.17" x2="283" y2="209.17" stroke="#3c3c3c" stroke-width="1"/>
<text x="276.5" y="212.27" font-size="9.4" text-anchor="end" class="sf" fill="#1a1a1a">2.0</text>
<line x1="278.8" y1="192.21" x2="283" y2="192.21" stroke="#3c3c3c" stroke-width="1"/>
<text x="276.5" y="195.31" font-size="9.4" text-anchor="end" class="sf" fill="#1a1a1a">2.5</text>
<line x1="278.8" y1="175.25" x2="283" y2="175.25" stroke="#3c3c3c" stroke-width="1"/>
<text x="276.5" y="178.35" font-size="9.4" text-anchor="end" class="sf" fill="#1a1a1a">3.0</text>
<line x1="280.5" y1="268.52" x2="283" y2="268.52" stroke="#3c3c3c" stroke-width="0.9"/>
<line x1="280.5" y1="251.56" x2="283" y2="251.56" stroke="#3c3c3c" stroke-width="0.9"/>
<line x1="280.5" y1="234.6" x2="283" y2="234.6" stroke="#3c3c3c" stroke-width="0.9"/>
<line x1="280.5" y1="217.65" x2="283" y2="217.65" stroke="#3c3c3c" stroke-width="0.9"/>
<line x1="280.5" y1="200.69" x2="283" y2="200.69" stroke="#3c3c3c" stroke-width="0.9"/>
<line x1="280.5" y1="183.73" x2="283" y2="183.73" stroke="#3c3c3c" stroke-width="0.9"/>
<line x1="280.5" y1="166.77" x2="283" y2="166.77" stroke="#3c3c3c" stroke-width="0.9"/>
<line x1="299.9" y1="277" x2="299.9" y2="280.6" stroke="#3c3c3c" stroke-width="1"/>
<text x="299.9" y="290.5" font-size="9.4" text-anchor="middle" class="sf" fill="#1a1a1a">NFD</text>
<line x1="332.5" y1="277" x2="332.5" y2="280.6" stroke="#3c3c3c" stroke-width="1"/>
<text x="332.5" y="290.5" font-size="9.4" text-anchor="middle" class="sf" fill="#1a1a1a">HFD</text>
<line x1="299.25" y1="174.5" x2="331.75" y2="174.5" stroke="#555" stroke-width="1.4"/>
<text x="315.5" y="176.37" font-size="11" text-anchor="middle" class="sf" fill="#1a1a1a" stroke="#1a1a1a" stroke-width="0.25">*</text>
<text x="259.8" y="221.88" font-size="9.2" text-anchor="middle" class="sf" fill="#1a1a1a" transform="rotate(-90 259.8 221.88)">Serum LDL (mmol/L)</text>
<rect x="409.25" y="229.25" width="20.75" height="47.75" fill="#38bd72" stroke="#484848" stroke-width="0.9"/>
<rect x="441.75" y="197.25" width="21.25" height="79.75" fill="#ff6666" stroke="#484848" stroke-width="0.9"/>
<line x1="419.9" y1="217.5" x2="419.9" y2="229.25" stroke="#555" stroke-width="1"/>
<line x1="414.9" y1="217.5" x2="424.9" y2="217.5" stroke="#555" stroke-width="1"/>
<line x1="452.5" y1="196" x2="452.5" y2="197.25" stroke="#555" stroke-width="1"/>
<line x1="448" y1="196" x2="457" y2="196" stroke="#555" stroke-width="1"/>
<path d="M417.5 214.6L420.4 217.5L417.5 220.4L414.6 217.5Z" fill="#3a3a3a"/>
<path d="M416.25 219.6L419.15 222.5L416.25 225.4L413.35 222.5Z" fill="#3a3a3a"/>
<path d="M418 222.1L420.9 225L418 227.9L415.1 225Z" fill="#3a3a3a"/>
<path d="M416.75 235.1L419.65 238L416.75 240.9L413.85 238Z" fill="#3a3a3a"/>
<path d="M421.25 239.6L424.15 242.5L421.25 245.4L418.35 242.5Z" fill="#3a3a3a"/>
<path d="M449.25 181.35L452.15 184.25L449.25 187.15L446.35 184.25Z" fill="#3a3a3a"/>
<path d="M452.5 193.85L455.4 196.75L452.5 199.65L449.6 196.75Z" fill="#3a3a3a"/>
<path d="M453 196.35L455.9 199.25L453 202.15L450.1 199.25Z" fill="#3a3a3a"/>
<path d="M452 198.35L454.9 201.25L452 204.15L449.1 201.25Z" fill="#3a3a3a"/>
<path d="M452 201.35L454.9 204.25L452 207.15L449.1 204.25Z" fill="#3a3a3a"/>
<line x1="403" y1="166.25" x2="403" y2="277.5" stroke="#3c3c3c" stroke-width="1"/>
<line x1="402.5" y1="277" x2="468.75" y2="277" stroke="#3c3c3c" stroke-width="1"/>
<line x1="398.8" y1="277" x2="403" y2="277" stroke="#3c3c3c" stroke-width="1"/>
<text x="396.5" y="280.1" font-size="9.4" text-anchor="end" class="sf" fill="#1a1a1a">0</text>
<line x1="398.8" y1="254.95" x2="403" y2="254.95" stroke="#3c3c3c" stroke-width="1"/>
<text x="396.5" y="258.05" font-size="9.4" text-anchor="end" class="sf" fill="#1a1a1a">2</text>
<line x1="398.8" y1="232.9" x2="403" y2="232.9" stroke="#3c3c3c" stroke-width="1"/>
<text x="396.5" y="236" font-size="9.4" text-anchor="end" class="sf" fill="#1a1a1a">4</text>
<line x1="398.8" y1="210.85" x2="403" y2="210.85" stroke="#3c3c3c" stroke-width="1"/>
<text x="396.5" y="213.95" font-size="9.4" text-anchor="end" class="sf" fill="#1a1a1a">6</text>
<line x1="398.8" y1="188.8" x2="403" y2="188.8" stroke="#3c3c3c" stroke-width="1"/>
<text x="396.5" y="191.9" font-size="9.4" text-anchor="end" class="sf" fill="#1a1a1a">8</text>
<line x1="398.8" y1="166.75" x2="403" y2="166.75" stroke="#3c3c3c" stroke-width="1"/>
<text x="396.5" y="169.85" font-size="9.4" text-anchor="end" class="sf" fill="#1a1a1a">10</text>
<line x1="400.5" y1="265.98" x2="403" y2="265.98" stroke="#3c3c3c" stroke-width="0.9"/>
<line x1="400.5" y1="243.93" x2="403" y2="243.93" stroke="#3c3c3c" stroke-width="0.9"/>
<line x1="400.5" y1="221.88" x2="403" y2="221.88" stroke="#3c3c3c" stroke-width="0.9"/>
<line x1="400.5" y1="199.82" x2="403" y2="199.82" stroke="#3c3c3c" stroke-width="0.9"/>
<line x1="400.5" y1="177.78" x2="403" y2="177.78" stroke="#3c3c3c" stroke-width="0.9"/>
<line x1="419.9" y1="277" x2="419.9" y2="280.6" stroke="#3c3c3c" stroke-width="1"/>
<text x="419.9" y="290.5" font-size="9.4" text-anchor="middle" class="sf" fill="#1a1a1a">NFD</text>
<line x1="452.5" y1="277" x2="452.5" y2="280.6" stroke="#3c3c3c" stroke-width="1"/>
<text x="452.5" y="290.5" font-size="9.4" text-anchor="middle" class="sf" fill="#1a1a1a">HFD</text>
<line x1="419.25" y1="175.25" x2="452" y2="175.25" stroke="#555" stroke-width="1.4"/>
<text x="435.62" y="177.12" font-size="11" text-anchor="middle" class="sf" fill="#1a1a1a" stroke="#1a1a1a" stroke-width="0.25">**</text>
<text x="381.9" y="221.88" font-size="9.2" text-anchor="middle" class="sf" fill="#1a1a1a" transform="rotate(-90 381.9 221.88)">Hepatic TG (mmol/g)</text>
<rect x="457" y="15.5" width="15.5" height="7.5" fill="#38bd72" stroke="#3c3c3c" stroke-width="1"/>
<rect x="457" y="24.5" width="15.5" height="7.3" fill="#ff6666" stroke="#3c3c3c" stroke-width="1"/>
<text x="474.3" y="21.7" font-size="6.9" class="sf" fill="#1a1a1a">NFD</text>
<text x="474.3" y="30.7" font-size="6.9" class="sf" fill="#1a1a1a">HFD</text>
<text x="2.5" y="14" font-size="14.5" class="sf" fill="#111">A</text>
<text x="2" y="308" font-size="14.5" class="sf" fill="#111">B</text>
<text x="511.5" y="14.2" font-size="14.5" class="sf" fill="#111">C</text>
<text x="511.5" y="163" font-size="14.5" class="sf" fill="#111">D</text>
<text x="488.3" y="307.3" font-size="14.5" class="sf" fill="#111">E</text>
<text x="489.7" y="471.5" font-size="14.5" class="sf" fill="#111">F</text>
<text x="4" y="465.5" font-size="14.5" class="sf" fill="#111">G</text>
<text x="479" y="627.7" font-size="14.5" class="sf" fill="#111">H</text>
<text x="7" y="740.3" font-size="14.5" class="sf" fill="#111">I</text>
<line x1="550.2" y1="12.3" x2="550.2" y2="136.3" stroke="#222" stroke-width="1.1"/>
<line x1="549.7" y1="135.8" x2="632.8" y2="135.8" stroke="#222" stroke-width="1.1"/>
<line x1="546.4" y1="13.9" x2="550.2" y2="13.9" stroke="#222" stroke-width="0.9"/>
<text x="544.8" y="17" font-size="8.6" text-anchor="end" class="ss" fill="#151515">0.50</text>
<line x1="546.4" y1="31.75" x2="550.2" y2="31.75" stroke="#222" stroke-width="0.9"/>
<text x="544.8" y="34.85" font-size="8.6" text-anchor="end" class="ss" fill="#151515">0.45</text>
<line x1="546.4" y1="49.6" x2="550.2" y2="49.6" stroke="#222" stroke-width="0.9"/>
<text x="544.8" y="52.7" font-size="8.6" text-anchor="end" class="ss" fill="#151515">0.40</text>
<line x1="546.4" y1="67.45" x2="550.2" y2="67.45" stroke="#222" stroke-width="0.9"/>
<text x="544.8" y="70.55" font-size="8.6" text-anchor="end" class="ss" fill="#151515">0.35</text>
<line x1="546.4" y1="85.3" x2="550.2" y2="85.3" stroke="#222" stroke-width="0.9"/>
<text x="544.8" y="88.4" font-size="8.6" text-anchor="end" class="ss" fill="#151515">0.30</text>
<line x1="546.4" y1="103.15" x2="550.2" y2="103.15" stroke="#222" stroke-width="0.9"/>
<text x="544.8" y="106.25" font-size="8.6" text-anchor="end" class="ss" fill="#151515">0.25</text>
<line x1="546.4" y1="121" x2="550.2" y2="121" stroke="#222" stroke-width="0.9"/>
<text x="544.8" y="124.1" font-size="8.6" text-anchor="end" class="ss" fill="#151515">0.20</text>
<line x1="550.2" y1="135.8" x2="550.2" y2="139" stroke="#222" stroke-width="1"/>
<line x1="571.3" y1="135.8" x2="571.3" y2="138.6" stroke="#222" stroke-width="1"/>
<line x1="612.3" y1="135.8" x2="612.3" y2="138.6" stroke="#222" stroke-width="1"/>
<text x="571.2" y="147.8" font-size="8.9" text-anchor="middle" class="ss" fill="#151515">HFD</text>
<text x="612.2" y="147.8" font-size="8.9" text-anchor="middle" class="ss" fill="#151515">NFD</text>
<text x="520" y="75" font-size="8.6" text-anchor="middle" class="sf" font-weight="bold" fill="#111" transform="rotate(-90 520 75)">Beta diversity</text>
<line x1="572.3" y1="20.4" x2="572.3" y2="53.1" stroke="#f0b860" stroke-width="1.1"/>
<line x1="572.3" y1="88.8" x2="572.3" y2="127.5" stroke="#f0b860" stroke-width="1.1"/>
<line x1="567.4" y1="20.4" x2="577.2" y2="20.4" stroke="#f0b860" stroke-width="1.1"/>
<line x1="567.4" y1="127.5" x2="577.2" y2="127.5" stroke="#f0b860" stroke-width="1.1"/>
<rect x="560.6" y="53.1" width="23.4" height="35.7" fill="#f3cf98" stroke="#f0b860" stroke-width="1.1"/>
<line x1="560.6" y1="74.4" x2="584" y2="74.4" stroke="#f0b860" stroke-width="1.1"/>
<line x1="613.1" y1="80.7" x2="613.1" y2="88.1" stroke="#5fd0f3" stroke-width="1.1"/>
<line x1="613.1" y1="112" x2="613.1" y2="127.5" stroke="#5fd0f3" stroke-width="1.1"/>
<line x1="608.2" y1="80.7" x2="618" y2="80.7" stroke="#5fd0f3" stroke-width="1.1"/>
<line x1="608.2" y1="127.5" x2="618" y2="127.5" stroke="#5fd0f3" stroke-width="1.1"/>
<rect x="601.3" y="88.1" width="23.6" height="23.9" fill="#b6e4f5" stroke="#5fd0f3" stroke-width="1.1"/>
<line x1="601.3" y1="103.3" x2="624.9" y2="103.3" stroke="#5fd0f3" stroke-width="1.1"/>
<circle cx="576.81" cy="20.77" r="1.5" fill="#f3cf98" stroke="#8a6a30" stroke-width="0.6"/>
<circle cx="565.07" cy="47.85" r="1.5" fill="#f3cf98" stroke="#8a6a30" stroke-width="0.6"/>
<circle cx="573.56" cy="48.93" r="1.5" fill="#f3cf98" stroke="#8a6a30" stroke-width="0.6"/>
<circle cx="582.77" cy="67.89" r="1.5" fill="#f3cf98" stroke="#8a6a30" stroke-width="0.6"/>
<circle cx="562.37" cy="74.76" r="1.5" fill="#f3cf98" stroke="#8a6a30" stroke-width="0.6"/>
<circle cx="569.05" cy="75.12" r="1.5" fill="#f3cf98" stroke="#8a6a30" stroke-width="0.6"/>
<circle cx="575.01" cy="78.19" r="1.5" fill="#f3cf98" stroke="#8a6a30" stroke-width="0.6"/>
<circle cx="581.87" cy="92.27" r="1.5" fill="#f3cf98" stroke="#8a6a30" stroke-width="0.6"/>
<circle cx="572.48" cy="97.51" r="1.5" fill="#f3cf98" stroke="#8a6a30" stroke-width="0.6"/>
<circle cx="576.99" cy="127.66" r="1.5" fill="#f3cf98" stroke="#8a6a30" stroke-width="0.6"/>
<circle cx="611.12" cy="80.72" r="1.5" fill="#b6e4f5" stroke="#3d7f99" stroke-width="0.6"/>
<circle cx="623.4" cy="82.88" r="1.5" fill="#b6e4f5" stroke="#3d7f99" stroke-width="0.6"/>
<circle cx="614.19" cy="85.95" r="1.5" fill="#b6e4f5" stroke="#3d7f99" stroke-width="0.6"/>
<circle cx="622.5" cy="97.15" r="1.5" fill="#b6e4f5" stroke="#3d7f99" stroke-width="0.6"/>
<circle cx="608.59" cy="102.74" r="1.5" fill="#b6e4f5" stroke="#3d7f99" stroke-width="0.6"/>
<circle cx="613.83" cy="104.55" r="1.5" fill="#b6e4f5" stroke="#3d7f99" stroke-width="0.6"/>
<circle cx="622.13" cy="107.08" r="1.5" fill="#b6e4f5" stroke="#3d7f99" stroke-width="0.6"/>
<circle cx="615.81" cy="113.4" r="1.5" fill="#b6e4f5" stroke="#3d7f99" stroke-width="0.6"/>
<circle cx="604.08" cy="127.3" r="1.5" fill="#b6e4f5" stroke="#3d7f99" stroke-width="0.6"/>
<circle cx="622.13" cy="126.04" r="1.5" fill="#b6e4f5" stroke="#3d7f99" stroke-width="0.6"/>
<line x1="572.3" y1="16.8" x2="614.2" y2="16.8" stroke="#555" stroke-width="1.2"/>
<text x="593.6" y="18.6" font-size="11.5" text-anchor="middle" class="ss" fill="#333">*</text>
<rect x="638.9" y="6.1" width="5" height="5" fill="#f3cf98" stroke="#f0b860" stroke-width="0.8"/>
<text x="646.7" y="12.2" font-size="9.5" class="ss" fill="#151515">HFD</text>
<rect x="638.9" y="20.3" width="5" height="5" fill="#b6e4f5" stroke="#5fd0f3" stroke-width="0.8"/>
<text x="646.7" y="26.2" font-size="9.5" class="ss" fill="#151515">NFD</text>
<ellipse cx="599.4" cy="244.5" rx="52" ry="11.5" transform="rotate(15 599.4 244.5)" fill="#f7deb0" stroke="#f0c46e" stroke-width="0.8"/>
<ellipse cx="604.8" cy="205.2" rx="36.6" ry="38.2" transform="rotate(-20 604.8 205.2)" fill="#bfe9f8" fill-opacity="0.85" stroke="#8edcf5" stroke-width="0.8"/>
<rect x="546.7" y="164.6" width="107" height="99.6" fill="none" stroke="#777" stroke-width="0.8"/>
<line x1="602.5" y1="164.6" x2="602.5" y2="264.2" stroke="#666" stroke-width="0.9"/>
<line x1="546.7" y1="224.4" x2="653.7" y2="224.4" stroke="#666" stroke-width="0.9"/>
<line x1="545" y1="171" x2="546.7" y2="171" stroke="#666" stroke-width="0.7"/>
<text x="544" y="173.4" font-size="6.8" text-anchor="end" class="ss" fill="#151515">0.4</text>
<line x1="545" y1="184.6" x2="546.7" y2="184.6" stroke="#666" stroke-width="0.7"/>
<text x="544" y="187" font-size="6.8" text-anchor="end" class="ss" fill="#151515">0.3</text>
<line x1="545" y1="198.1" x2="546.7" y2="198.1" stroke="#666" stroke-width="0.7"/>
<text x="544" y="200.5" font-size="6.8" text-anchor="end" class="ss" fill="#151515">0.2</text>
<line x1="545" y1="211.25" x2="546.7" y2="211.25" stroke="#666" stroke-width="0.7"/>
<text x="544" y="213.65" font-size="6.8" text-anchor="end" class="ss" fill="#151515">0.1</text>
<line x1="545" y1="224.4" x2="546.7" y2="224.4" stroke="#666" stroke-width="0.7"/>
<text x="544" y="226.8" font-size="6.8" text-anchor="end" class="ss" fill="#151515">0.0</text>
<line x1="545" y1="238.1" x2="546.7" y2="238.1" stroke="#666" stroke-width="0.7"/>
<text x="544" y="240.5" font-size="6.8" text-anchor="end" class="ss" fill="#151515">-0.1</text>
<line x1="545" y1="251.5" x2="546.7" y2="251.5" stroke="#666" stroke-width="0.7"/>
<text x="544" y="253.9" font-size="6.8" text-anchor="end" class="ss" fill="#151515">-0.2</text>
<line x1="553.1" y1="264.2" x2="553.1" y2="266" stroke="#666" stroke-width="0.7"/>
<text x="553.1" y="273.2" font-size="6.8" text-anchor="middle" class="ss" fill="#151515">-0.6</text>
<line x1="569.4" y1="264.2" x2="569.4" y2="266" stroke="#666" stroke-width="0.7"/>
<text x="569.4" y="273.2" font-size="6.8" text-anchor="middle" class="ss" fill="#151515">-0.4</text>
<line x1="586" y1="264.2" x2="586" y2="266" stroke="#666" stroke-width="0.7"/>
<text x="586" y="273.2" font-size="6.8" text-anchor="middle" class="ss" fill="#151515">-0.2</text>
<line x1="602.5" y1="264.2" x2="602.5" y2="266" stroke="#666" stroke-width="0.7"/>
<text x="602.5" y="273.2" font-size="6.8" text-anchor="middle" class="ss" fill="#151515">0.0</text>
<line x1="618.3" y1="264.2" x2="618.3" y2="266" stroke="#666" stroke-width="0.7"/>
<text x="618.3" y="273.2" font-size="6.8" text-anchor="middle" class="ss" fill="#151515">0.2</text>
<line x1="635" y1="264.2" x2="635" y2="266" stroke="#666" stroke-width="0.7"/>
<text x="635" y="273.2" font-size="6.8" text-anchor="middle" class="ss" fill="#151515">0.4</text>
<circle cx="596.5" cy="181.25" r="1.7" fill="#4fc8f5"/>
<circle cx="606.9" cy="200.6" r="1.7" fill="#4fc8f5"/>
<circle cx="600.8" cy="211.9" r="1.7" fill="#4fc8f5"/>
<circle cx="629.4" cy="210.8" r="1.7" fill="#4fc8f5"/>
<circle cx="590.2" cy="221.5" r="1.7" fill="#4fc8f5"/>
<circle cx="585.6" cy="236.7" r="1.7" fill="#f2a22e"/>
<circle cx="585.2" cy="241.7" r="1.7" fill="#f2a22e"/>
<circle cx="597.5" cy="239.2" r="1.7" fill="#f2a22e"/>
<circle cx="594.8" cy="249.6" r="1.7" fill="#f2a22e"/>
<circle cx="635" cy="252.7" r="1.7" fill="#f2a22e"/>
<text x="548" y="169.6" font-size="5.9" class="sf" fill="#151515">Anosim test</text>
<text x="550.6" y="178.4" font-size="5.9" class="sf" fill="#151515">R = 0.36</text>
<text x="550.6" y="187.7" font-size="5.9" class="sf" fill="#222"><tspan font-style="italic">p</tspan> &lt; 0.05</text>
<text x="599.6" y="285.8" font-size="7.2" text-anchor="middle" class="ss" font-weight="bold" fill="#111">PCo1(24.56%)</text>
<text x="523.3" y="214.2" font-size="7.2" text-anchor="middle" class="ss" font-weight="bold" fill="#111" transform="rotate(-90 523.3 214.2)">PCo2(17.25%)</text>
<circle cx="659.9" cy="166.2" r="2" fill="#f2a22e"/>
<text x="663.7" y="168.8" font-size="7" class="ss" fill="#151515">HFD</text>
<circle cx="659.9" cy="177" r="2" fill="#4fc8f5"/>
<text x="663.7" y="179.6" font-size="7" class="ss" fill="#151515">NFD</text>
<line x1="46.9" y1="337.2" x2="46.9" y2="345.2" stroke="#f0b860" stroke-width="1"/>
<line x1="43.7" y1="337.2" x2="50.1" y2="337.2" stroke="#f0b860" stroke-width="1"/>
<line x1="46.9" y1="357.5" x2="46.9" y2="364.3" stroke="#f0b860" stroke-width="1"/>
<line x1="43.7" y1="364.3" x2="50.1" y2="364.3" stroke="#f0b860" stroke-width="1"/>
<rect x="39.95" y="345.2" width="13.9" height="12.3" fill="#f3cf98" stroke="#f0b860" stroke-width="1"/>
<line x1="39.95" y1="351.6" x2="53.85" y2="351.6" stroke="#f0b860" stroke-width="0.9"/>
<line x1="72.7" y1="360.1" x2="72.7" y2="362.3" stroke="#5fd0f3" stroke-width="1"/>
<line x1="71.1" y1="360.1" x2="74.3" y2="360.1" stroke="#5fd0f3" stroke-width="1"/>
<rect x="65.95" y="362.3" width="13.5" height="4.2" fill="#b6e4f5" stroke="#5fd0f3" stroke-width="1"/>
<line x1="65.95" y1="364.7" x2="79.45" y2="364.7" stroke="#5fd0f3" stroke-width="0.9"/>
<circle cx="48.9" cy="337.2" r="1.25" fill="#f3cf98" stroke="#6b5630" stroke-width="0.65"/>
<circle cx="44.8" cy="348.7" r="1.25" fill="#f3cf98" stroke="#6b5630" stroke-width="0.65"/>
<circle cx="42.3" cy="355" r="1.25" fill="#f3cf98" stroke="#6b5630" stroke-width="0.65"/>
<circle cx="48.7" cy="364.3" r="1.25" fill="#f3cf98" stroke="#6b5630" stroke-width="0.65"/>
<circle cx="44.3" cy="412.9" r="1.25" fill="#f3cf98" stroke="#6b5630" stroke-width="0.65"/>
<circle cx="67.7" cy="345.4" r="1.25" fill="#b6e4f5" stroke="#36677c" stroke-width="0.65"/>
<circle cx="73.8" cy="360.4" r="1.25" fill="#b6e4f5" stroke="#36677c" stroke-width="0.65"/>
<circle cx="74" cy="364.3" r="1.25" fill="#b6e4f5" stroke="#36677c" stroke-width="0.65"/>
<circle cx="72.8" cy="366" r="1.25" fill="#b6e4f5" stroke="#36677c" stroke-width="0.65"/>
<circle cx="71.2" cy="367.7" r="1.25" fill="#b6e4f5" stroke="#36677c" stroke-width="0.65"/>
<circle cx="76.3" cy="391.2" r="1.25" fill="#b6e4f5" stroke="#36677c" stroke-width="0.65"/>
<line x1="32.5" y1="320" x2="32.5" y2="431.7" stroke="#222" stroke-width="1.1"/>
<line x1="30.3" y1="431.2" x2="84.1" y2="431.2" stroke="#3a3a3a" stroke-width="1.3"/>
<line x1="32.5" y1="431.2" x2="32.5" y2="434" stroke="#222" stroke-width="1.1"/>
<line x1="30.3" y1="322.5" x2="32.5" y2="322.5" stroke="#222" stroke-width="0.9"/>
<text x="28.3" y="325.5" font-size="8.5" text-anchor="end" class="ss" fill="#111">650</text>
<line x1="30.3" y1="352.1" x2="32.5" y2="352.1" stroke="#222" stroke-width="0.9"/>
<text x="28.3" y="355.1" font-size="8.5" text-anchor="end" class="ss" fill="#111">600</text>
<line x1="30.3" y1="381.6" x2="32.5" y2="381.6" stroke="#222" stroke-width="0.9"/>
<text x="28.3" y="384.6" font-size="8.5" text-anchor="end" class="ss" fill="#111">550</text>
<line x1="30.3" y1="411.2" x2="32.5" y2="411.2" stroke="#222" stroke-width="0.9"/>
<text x="28.3" y="414.2" font-size="8.5" text-anchor="end" class="ss" fill="#111">500</text>
<line x1="45.7" y1="431.2" x2="45.7" y2="433.8" stroke="#222" stroke-width="1"/>
<text x="45.7" y="442" font-size="8" text-anchor="middle" class="ss" fill="#151515">HFD</text>
<line x1="71.8" y1="431.2" x2="71.8" y2="433.8" stroke="#222" stroke-width="1"/>
<text x="71.8" y="442" font-size="8" text-anchor="middle" class="ss" fill="#151515">NFD</text>
<text x="9.8" y="375.3" font-size="8.3" text-anchor="middle" class="ss" font-weight="bold" fill="#111" transform="rotate(-90 9.8 375.3)">ACE</text>
<line x1="141.4" y1="356.2" x2="141.4" y2="357.5" stroke="#f0b860" stroke-width="1"/>
<line x1="139.4" y1="356.2" x2="143.4" y2="356.2" stroke="#f0b860" stroke-width="1"/>
<rect x="134.45" y="357.5" width="13.9" height="3.1" fill="#f3cf98" stroke="#f0b860" stroke-width="1"/>
<line x1="134.45" y1="359.2" x2="148.35" y2="359.2" stroke="#f0b860" stroke-width="0.9"/>
<line x1="167.8" y1="362.6" x2="167.8" y2="367.2" stroke="#5fd0f3" stroke-width="1"/>
<line x1="164.6" y1="362.6" x2="171" y2="362.6" stroke="#5fd0f3" stroke-width="1"/>
<rect x="161.05" y="367.2" width="13.5" height="5.6" fill="#b6e4f5" stroke="#5fd0f3" stroke-width="1"/>
<line x1="161.05" y1="371.5" x2="174.55" y2="371.5" stroke="#5fd0f3" stroke-width="0.9"/>
<circle cx="145.5" cy="339.1" r="1.25" fill="#f3cf98" stroke="#6b5630" stroke-width="0.65"/>
<circle cx="137.6" cy="356" r="1.25" fill="#f3cf98" stroke="#6b5630" stroke-width="0.65"/>
<circle cx="146.7" cy="359.2" r="1.25" fill="#f3cf98" stroke="#6b5630" stroke-width="0.65"/>
<circle cx="144.2" cy="360.9" r="1.25" fill="#f3cf98" stroke="#6b5630" stroke-width="0.65"/>
<circle cx="138.6" cy="411" r="1.25" fill="#f3cf98" stroke="#6b5630" stroke-width="0.65"/>
<circle cx="168.2" cy="345" r="1.25" fill="#b6e4f5" stroke="#36677c" stroke-width="0.65"/>
<circle cx="161.8" cy="362.6" r="1.25" fill="#b6e4f5" stroke="#36677c" stroke-width="0.65"/>
<circle cx="164.8" cy="372.9" r="1.25" fill="#b6e4f5" stroke="#36677c" stroke-width="0.65"/>
<circle cx="171.6" cy="372.3" r="1.25" fill="#b6e4f5" stroke="#36677c" stroke-width="0.65"/>
<circle cx="166.2" cy="403.4" r="1.25" fill="#b6e4f5" stroke="#36677c" stroke-width="0.65"/>
<line x1="127.2" y1="319.5" x2="127.2" y2="431.7" stroke="#222" stroke-width="1.1"/>
<line x1="125" y1="431.2" x2="179.2" y2="431.2" stroke="#3a3a3a" stroke-width="1.3"/>
<line x1="127.2" y1="431.2" x2="127.2" y2="434" stroke="#222" stroke-width="1.1"/>
<line x1="125" y1="330.3" x2="127.2" y2="330.3" stroke="#222" stroke-width="0.9"/>
<text x="123" y="333.3" font-size="8.5" text-anchor="end" class="ss" fill="#111">640</text>
<line x1="125" y1="343.23" x2="127.2" y2="343.23" stroke="#222" stroke-width="0.9"/>
<text x="123" y="346.23" font-size="8.5" text-anchor="end" class="ss" fill="#111">620</text>
<line x1="125" y1="356.16" x2="127.2" y2="356.16" stroke="#222" stroke-width="0.9"/>
<text x="123" y="359.16" font-size="8.5" text-anchor="end" class="ss" fill="#111">600</text>
<line x1="125" y1="369.09" x2="127.2" y2="369.09" stroke="#222" stroke-width="0.9"/>
<text x="123" y="372.09" font-size="8.5" text-anchor="end" class="ss" fill="#111">580</text>
<line x1="125" y1="382.01" x2="127.2" y2="382.01" stroke="#222" stroke-width="0.9"/>
<text x="123" y="385.01" font-size="8.5" text-anchor="end" class="ss" fill="#111">560</text>
<line x1="125" y1="394.94" x2="127.2" y2="394.94" stroke="#222" stroke-width="0.9"/>
<text x="123" y="397.94" font-size="8.5" text-anchor="end" class="ss" fill="#111">540</text>
<line x1="125" y1="407.87" x2="127.2" y2="407.87" stroke="#222" stroke-width="0.9"/>
<text x="123" y="410.87" font-size="8.5" text-anchor="end" class="ss" fill="#111">520</text>
<line x1="125" y1="420.8" x2="127.2" y2="420.8" stroke="#222" stroke-width="0.9"/>
<text x="123" y="423.8" font-size="8.5" text-anchor="end" class="ss" fill="#111">500</text>
<line x1="140.4" y1="431.2" x2="140.4" y2="433.8" stroke="#222" stroke-width="1"/>
<text x="140.4" y="442" font-size="8" text-anchor="middle" class="ss" fill="#151515">HFD</text>
<line x1="166.5" y1="431.2" x2="166.5" y2="433.8" stroke="#222" stroke-width="1"/>
<text x="166.5" y="442" font-size="8" text-anchor="middle" class="ss" fill="#151515">NFD</text>
<text x="104.2" y="375.3" font-size="8.3" text-anchor="middle" class="ss" font-weight="bold" fill="#111" transform="rotate(-90 104.2 375.3)">Chao1</text>
<line x1="235.9" y1="332.2" x2="235.9" y2="338.2" stroke="#f0b860" stroke-width="1"/>
<line x1="232.7" y1="332.2" x2="239.1" y2="332.2" stroke="#f0b860" stroke-width="1"/>
<line x1="235.9" y1="346" x2="235.9" y2="351.3" stroke="#f0b860" stroke-width="1"/>
<line x1="232.7" y1="351.3" x2="239.1" y2="351.3" stroke="#f0b860" stroke-width="1"/>
<rect x="228.95" y="338.2" width="13.9" height="7.8" fill="#f3cf98" stroke="#f0b860" stroke-width="1"/>
<line x1="228.95" y1="341.8" x2="242.85" y2="341.8" stroke="#f0b860" stroke-width="0.9"/>
<line x1="262.1" y1="337.6" x2="262.1" y2="344.2" stroke="#5fd0f3" stroke-width="1"/>
<line x1="258.9" y1="337.6" x2="265.3" y2="337.6" stroke="#5fd0f3" stroke-width="1"/>
<rect x="255.4" y="344.2" width="13.4" height="12.5" fill="#b6e4f5" stroke="#5fd0f3" stroke-width="1"/>
<line x1="255.4" y1="351.1" x2="268.8" y2="351.1" stroke="#5fd0f3" stroke-width="0.9"/>
<circle cx="239.3" cy="332.2" r="1.25" fill="#f3cf98" stroke="#6b5630" stroke-width="0.65"/>
<circle cx="229.8" cy="340.6" r="1.25" fill="#f3cf98" stroke="#6b5630" stroke-width="0.65"/>
<circle cx="234.9" cy="344" r="1.25" fill="#f3cf98" stroke="#6b5630" stroke-width="0.65"/>
<circle cx="238" cy="351.4" r="1.25" fill="#f3cf98" stroke="#6b5630" stroke-width="0.65"/>
<circle cx="229.7" cy="416.9" r="1.25" fill="#f3cf98" stroke="#6b5630" stroke-width="0.65"/>
<circle cx="262.8" cy="337.7" r="1.25" fill="#b6e4f5" stroke="#36677c" stroke-width="0.65"/>
<circle cx="267.6" cy="346.4" r="1.25" fill="#b6e4f5" stroke="#36677c" stroke-width="0.65"/>
<circle cx="258.1" cy="356.4" r="1.25" fill="#b6e4f5" stroke="#36677c" stroke-width="0.65"/>
<circle cx="260.1" cy="356.5" r="1.25" fill="#b6e4f5" stroke="#36677c" stroke-width="0.65"/>
<circle cx="267.4" cy="381.9" r="1.25" fill="#b6e4f5" stroke="#36677c" stroke-width="0.65"/>
<line x1="221.4" y1="318.6" x2="221.4" y2="431.7" stroke="#222" stroke-width="1.1"/>
<line x1="219.2" y1="431.2" x2="273.5" y2="431.2" stroke="#3a3a3a" stroke-width="1.3"/>
<line x1="221.4" y1="431.2" x2="221.4" y2="434" stroke="#222" stroke-width="1.1"/>
<line x1="219.2" y1="325.4" x2="221.4" y2="325.4" stroke="#222" stroke-width="0.9"/>
<text x="217.2" y="328.4" font-size="8.5" text-anchor="end" class="ss" fill="#111">600</text>
<line x1="219.2" y1="348.92" x2="221.4" y2="348.92" stroke="#222" stroke-width="0.9"/>
<text x="217.2" y="351.92" font-size="8.5" text-anchor="end" class="ss" fill="#111">550</text>
<line x1="219.2" y1="372.45" x2="221.4" y2="372.45" stroke="#222" stroke-width="0.9"/>
<text x="217.2" y="375.45" font-size="8.5" text-anchor="end" class="ss" fill="#111">500</text>
<line x1="219.2" y1="395.98" x2="221.4" y2="395.98" stroke="#222" stroke-width="0.9"/>
<text x="217.2" y="398.98" font-size="8.5" text-anchor="end" class="ss" fill="#111">450</text>
<line x1="219.2" y1="419.5" x2="221.4" y2="419.5" stroke="#222" stroke-width="0.9"/>
<text x="217.2" y="422.5" font-size="8.5" text-anchor="end" class="ss" fill="#111">400</text>
<line x1="234.9" y1="431.2" x2="234.9" y2="433.8" stroke="#222" stroke-width="1"/>
<text x="234.9" y="442" font-size="8" text-anchor="middle" class="ss" fill="#151515">HFD</text>
<line x1="260.8" y1="431.2" x2="260.8" y2="433.8" stroke="#222" stroke-width="1"/>
<text x="260.8" y="442" font-size="8" text-anchor="middle" class="ss" fill="#151515">NFD</text>
<text x="198.4" y="377" font-size="8.3" text-anchor="middle" class="ss" font-weight="bold" fill="#111" transform="rotate(-90 198.4 377)">Sob</text>
<line x1="328.1" y1="338.2" x2="328.1" y2="347.6" stroke="#f0b860" stroke-width="1"/>
<line x1="324.9" y1="338.2" x2="331.3" y2="338.2" stroke="#f0b860" stroke-width="1"/>
<line x1="328.1" y1="365.5" x2="328.1" y2="373.1" stroke="#f0b860" stroke-width="1"/>
<line x1="324.9" y1="373.1" x2="331.3" y2="373.1" stroke="#f0b860" stroke-width="1"/>
<rect x="321.5" y="347.6" width="13.2" height="17.9" fill="#f3cf98" stroke="#f0b860" stroke-width="1"/>
<line x1="321.5" y1="357.2" x2="334.7" y2="357.2" stroke="#f0b860" stroke-width="0.9"/>
<line x1="354.05" y1="334.5" x2="354.05" y2="337.2" stroke="#5fd0f3" stroke-width="1"/>
<line x1="350.85" y1="334.5" x2="357.25" y2="334.5" stroke="#5fd0f3" stroke-width="1"/>
<line x1="354.05" y1="363.5" x2="354.05" y2="380.2" stroke="#5fd0f3" stroke-width="1"/>
<line x1="350.85" y1="380.2" x2="357.25" y2="380.2" stroke="#5fd0f3" stroke-width="1"/>
<rect x="347.4" y="337.2" width="13.3" height="26.3" fill="#b6e4f5" stroke="#5fd0f3" stroke-width="1"/>
<line x1="347.4" y1="353.3" x2="360.7" y2="353.3" stroke="#5fd0f3" stroke-width="0.9"/>
<circle cx="326.9" cy="338.2" r="1.25" fill="#f3cf98" stroke="#6b5630" stroke-width="0.65"/>
<circle cx="322.3" cy="350.9" r="1.25" fill="#f3cf98" stroke="#6b5630" stroke-width="0.65"/>
<circle cx="323" cy="363.3" r="1.25" fill="#f3cf98" stroke="#6b5630" stroke-width="0.65"/>
<circle cx="325" cy="373.1" r="1.25" fill="#f3cf98" stroke="#6b5630" stroke-width="0.65"/>
<circle cx="326.7" cy="415.9" r="1.25" fill="#f3cf98" stroke="#6b5630" stroke-width="0.65"/>
<circle cx="351.6" cy="334.7" r="1.25" fill="#b6e4f5" stroke="#36677c" stroke-width="0.65"/>
<circle cx="351.6" cy="337.2" r="1.25" fill="#b6e4f5" stroke="#36677c" stroke-width="0.65"/>
<circle cx="348.4" cy="353.8" r="1.25" fill="#b6e4f5" stroke="#36677c" stroke-width="0.65"/>
<circle cx="357" cy="363.5" r="1.25" fill="#b6e4f5" stroke="#36677c" stroke-width="0.65"/>
<circle cx="356.5" cy="380.2" r="1.25" fill="#b6e4f5" stroke="#36677c" stroke-width="0.65"/>
<line x1="313.8" y1="319.1" x2="313.8" y2="431.7" stroke="#222" stroke-width="1.1"/>
<line x1="311.6" y1="431.2" x2="365.5" y2="431.2" stroke="#3a3a3a" stroke-width="1.3"/>
<line x1="313.8" y1="431.2" x2="313.8" y2="434" stroke="#222" stroke-width="1.1"/>
<line x1="311.6" y1="329.6" x2="313.8" y2="329.6" stroke="#222" stroke-width="0.9"/>
<text x="309.6" y="332.6" font-size="8.5" text-anchor="end" class="ss" fill="#111">6.5</text>
<line x1="311.6" y1="354.3" x2="313.8" y2="354.3" stroke="#222" stroke-width="0.9"/>
<text x="309.6" y="357.3" font-size="8.5" text-anchor="end" class="ss" fill="#111">6.0</text>
<line x1="311.6" y1="379" x2="313.8" y2="379" stroke="#222" stroke-width="0.9"/>
<text x="309.6" y="382" font-size="8.5" text-anchor="end" class="ss" fill="#111">5.5</text>
<line x1="311.6" y1="403.6" x2="313.8" y2="403.6" stroke="#222" stroke-width="0.9"/>
<text x="309.6" y="406.6" font-size="8.5" text-anchor="end" class="ss" fill="#111">5.0</text>
<line x1="311.6" y1="428.6" x2="313.8" y2="428.6" stroke="#222" stroke-width="0.9"/>
<text x="309.6" y="431.6" font-size="8.5" text-anchor="end" class="ss" fill="#111">4.5</text>
<line x1="327" y1="431.2" x2="327" y2="433.8" stroke="#222" stroke-width="1"/>
<text x="327" y="442" font-size="8" text-anchor="middle" class="ss" fill="#151515">HFD</text>
<line x1="353.1" y1="431.2" x2="353.1" y2="433.8" stroke="#222" stroke-width="1"/>
<text x="353.1" y="442" font-size="8" text-anchor="middle" class="ss" fill="#151515">NFD</text>
<text x="293.2" y="375.3" font-size="8.3" text-anchor="middle" class="ss" font-weight="bold" fill="#111" transform="rotate(-90 293.2 375.3)">Shannon</text>
<line x1="424.8" y1="357" x2="424.8" y2="358.9" stroke="#f0b860" stroke-width="1"/>
<line x1="421.6" y1="357" x2="428" y2="357" stroke="#f0b860" stroke-width="1"/>
<line x1="424.8" y1="367.4" x2="424.8" y2="371.4" stroke="#f0b860" stroke-width="1"/>
<line x1="421.6" y1="371.4" x2="428" y2="371.4" stroke="#f0b860" stroke-width="1"/>
<rect x="418.05" y="358.9" width="13.5" height="8.5" fill="#f3cf98" stroke="#f0b860" stroke-width="1"/>
<line x1="418.05" y1="363.5" x2="431.55" y2="363.5" stroke="#f0b860" stroke-width="0.9"/>
<line x1="450.7" y1="356.9" x2="450.7" y2="359.6" stroke="#5fd0f3" stroke-width="1"/>
<line x1="447.5" y1="359.6" x2="453.9" y2="359.6" stroke="#5fd0f3" stroke-width="1"/>
<rect x="444" y="354.2" width="13.4" height="2.7" fill="#b6e4f5" stroke="#5fd0f3" stroke-width="1"/>
<line x1="444" y1="355.6" x2="457.4" y2="355.6" stroke="#5fd0f3" stroke-width="0.9"/>
<circle cx="424.4" cy="357" r="1.25" fill="#f3cf98" stroke="#6b5630" stroke-width="0.65"/>
<circle cx="422" cy="360.4" r="1.25" fill="#f3cf98" stroke="#6b5630" stroke-width="0.65"/>
<circle cx="426.3" cy="365.3" r="1.25" fill="#f3cf98" stroke="#6b5630" stroke-width="0.65"/>
<circle cx="424.6" cy="371.4" r="1.25" fill="#f3cf98" stroke="#6b5630" stroke-width="0.65"/>
<circle cx="421" cy="396.8" r="1.25" fill="#f3cf98" stroke="#6b5630" stroke-width="0.65"/>
<circle cx="454.5" cy="353.1" r="1.25" fill="#b6e4f5" stroke="#36677c" stroke-width="0.65"/>
<circle cx="445.6" cy="355.2" r="1.25" fill="#b6e4f5" stroke="#36677c" stroke-width="0.65"/>
<circle cx="445.1" cy="359.6" r="1.25" fill="#b6e4f5" stroke="#36677c" stroke-width="0.65"/>
<circle cx="447.3" cy="375.8" r="1.25" fill="#b6e4f5" stroke="#36677c" stroke-width="0.65"/>
<line x1="410.2" y1="319.1" x2="410.2" y2="431.7" stroke="#222" stroke-width="1.1"/>
<line x1="408" y1="431.2" x2="462.2" y2="431.2" stroke="#3a3a3a" stroke-width="1.3"/>
<line x1="410.2" y1="431.2" x2="410.2" y2="434" stroke="#222" stroke-width="1.1"/>
<line x1="408" y1="320.3" x2="410.2" y2="320.3" stroke="#222" stroke-width="0.9"/>
<text x="406" y="323.3" font-size="8.5" text-anchor="end" class="ss" fill="#111">1.02</text>
<line x1="408" y1="334.4" x2="410.2" y2="334.4" stroke="#222" stroke-width="0.9"/>
<text x="406" y="337.4" font-size="8.5" text-anchor="end" class="ss" fill="#111">1.00</text>
<line x1="408" y1="348.5" x2="410.2" y2="348.5" stroke="#222" stroke-width="0.9"/>
<text x="406" y="351.5" font-size="8.5" text-anchor="end" class="ss" fill="#111">0.98</text>
<line x1="408" y1="362.6" x2="410.2" y2="362.6" stroke="#222" stroke-width="0.9"/>
<text x="406" y="365.6" font-size="8.5" text-anchor="end" class="ss" fill="#111">0.96</text>
<line x1="408" y1="376.7" x2="410.2" y2="376.7" stroke="#222" stroke-width="0.9"/>
<text x="406" y="379.7" font-size="8.5" text-anchor="end" class="ss" fill="#111">0.94</text>
<line x1="408" y1="390.8" x2="410.2" y2="390.8" stroke="#222" stroke-width="0.9"/>
<text x="406" y="393.8" font-size="8.5" text-anchor="end" class="ss" fill="#111">0.92</text>
<line x1="408" y1="404.9" x2="410.2" y2="404.9" stroke="#222" stroke-width="0.9"/>
<text x="406" y="407.9" font-size="8.5" text-anchor="end" class="ss" fill="#111">0.90</text>
<line x1="408" y1="419" x2="410.2" y2="419" stroke="#222" stroke-width="0.9"/>
<text x="406" y="422" font-size="8.5" text-anchor="end" class="ss" fill="#111">0.88</text>
<line x1="423.9" y1="431.2" x2="423.9" y2="433.8" stroke="#222" stroke-width="1"/>
<text x="422.4" y="436.7" font-size="8" class="ss" fill="#151515" transform="rotate(33 422.4 436.7)">HFD</text>
<line x1="449.8" y1="431.2" x2="449.8" y2="433.8" stroke="#222" stroke-width="1"/>
<text x="448.3" y="436.7" font-size="8" class="ss" fill="#151515" transform="rotate(33 448.3 436.7)">NFD</text>
<text x="384.8" y="375.3" font-size="8.3" text-anchor="middle" class="ss" font-weight="bold" fill="#111" transform="rotate(-90 384.8 375.3)">Simpson</text>
<rect x="436.4" y="314.4" width="4.4" height="4.3" fill="#f3cf98" stroke="#f0b860" stroke-width="0.8"/>
<text x="443" y="319.6" font-size="8.9" class="ss" fill="#151515">HFD</text>
<rect x="436.4" y="327.2" width="4.4" height="4.3" fill="#b6e4f5" stroke="#5fd0f3" stroke-width="0.8"/>
<text x="443" y="332.6" font-size="8.9" class="ss" fill="#151515">NFD</text>
<line x1="522.9" y1="435.3" x2="572.5" y2="435.3" stroke="#e9e9e9" stroke-width="0.6" stroke-dasharray="2 2.5"/>
<line x1="522.9" y1="423.09" x2="572.5" y2="423.09" stroke="#e9e9e9" stroke-width="0.6" stroke-dasharray="2 2.5"/>
<line x1="522.9" y1="410.88" x2="572.5" y2="410.88" stroke="#e9e9e9" stroke-width="0.6" stroke-dasharray="2 2.5"/>
<line x1="522.9" y1="398.67" x2="572.5" y2="398.67" stroke="#e9e9e9" stroke-width="0.6" stroke-dasharray="2 2.5"/>
<line x1="522.9" y1="386.46" x2="572.5" y2="386.46" stroke="#e9e9e9" stroke-width="0.6" stroke-dasharray="2 2.5"/>
<line x1="522.9" y1="374.25" x2="572.5" y2="374.25" stroke="#e9e9e9" stroke-width="0.6" stroke-dasharray="2 2.5"/>
<line x1="522.9" y1="362.04" x2="572.5" y2="362.04" stroke="#e9e9e9" stroke-width="0.6" stroke-dasharray="2 2.5"/>
<line x1="522.9" y1="349.83" x2="572.5" y2="349.83" stroke="#e9e9e9" stroke-width="0.6" stroke-dasharray="2 2.5"/>
<line x1="522.9" y1="337.62" x2="572.5" y2="337.62" stroke="#e9e9e9" stroke-width="0.6" stroke-dasharray="2 2.5"/>
<line x1="522.9" y1="325.41" x2="572.5" y2="325.41" stroke="#e9e9e9" stroke-width="0.6" stroke-dasharray="2 2.5"/>
<line x1="522.9" y1="313.2" x2="572.5" y2="313.2" stroke="#e9e9e9" stroke-width="0.6" stroke-dasharray="2 2.5"/>
<rect x="526" y="382.8" width="19.6" height="52.65" fill="#e0272f"/>
<rect x="526" y="338.6" width="19.6" height="44.35" fill="#7dd0f0"/>
<rect x="526" y="322.97" width="19.6" height="15.78" fill="#e2961f"/>
<rect x="526" y="320.89" width="19.6" height="2.23" fill="#7c1d7e"/>
<rect x="526" y="318.33" width="19.6" height="2.71" fill="#1faa60"/>
<rect x="526" y="316.01" width="19.6" height="2.47" fill="#e2d62c"/>
<rect x="526" y="314.67" width="19.6" height="1.49" fill="#2b0a57"/>
<rect x="526" y="313.93" width="19.6" height="0.88" fill="#20b4b8"/>
<rect x="526" y="313.81" width="19.6" height="0.27" fill="#efe690"/>
<rect x="526" y="313.44" width="19.6" height="0.52" fill="#3f8fe2"/>
<rect x="526" y="313.32" width="19.6" height="0.27" fill="#3b2e2c"/>
<rect x="526" y="313.2" width="19.6" height="0.27" fill="#cccccc"/>
<rect x="552.1" y="379.74" width="19.6" height="55.71" fill="#e0272f"/>
<rect x="552.1" y="326.88" width="19.6" height="53.02" fill="#7dd0f0"/>
<rect x="552.1" y="321.99" width="19.6" height="5.03" fill="#e2961f"/>
<rect x="552.1" y="319.06" width="19.6" height="3.08" fill="#7c1d7e"/>
<rect x="552.1" y="316.25" width="19.6" height="2.96" fill="#1faa60"/>
<rect x="552.1" y="315.03" width="19.6" height="1.37" fill="#e2d62c"/>
<rect x="552.1" y="314.91" width="19.6" height="0.27" fill="#2b0a57"/>
<rect x="552.1" y="314.79" width="19.6" height="0.27" fill="#20b4b8"/>
<rect x="552.1" y="314.05" width="19.6" height="0.88" fill="#efe690"/>
<rect x="552.1" y="313.93" width="19.6" height="0.27" fill="#3f8fe2"/>
<rect x="552.1" y="313.57" width="19.6" height="0.52" fill="#3b2e2c"/>
<rect x="552.1" y="313.2" width="19.6" height="0.52" fill="#cccccc"/>
<line x1="522.9" y1="312.9" x2="522.9" y2="435.8" stroke="#444" stroke-width="1"/>
<line x1="522.4" y1="435.3" x2="574.5" y2="435.3" stroke="#444" stroke-width="1"/>
<line x1="522.9" y1="435.3" x2="522.9" y2="437.8" stroke="#444" stroke-width="0.9"/>
<line x1="520.5" y1="435.3" x2="522.9" y2="435.3" stroke="#444" stroke-width="0.9"/>
<text x="519.5" y="437.7" font-size="6.8" text-anchor="end" class="ss" fill="#151515">0</text>
<line x1="520.5" y1="423.09" x2="522.9" y2="423.09" stroke="#444" stroke-width="0.9"/>
<text x="519.5" y="425.49" font-size="6.8" text-anchor="end" class="ss" fill="#151515">10</text>
<line x1="520.5" y1="410.88" x2="522.9" y2="410.88" stroke="#444" stroke-width="0.9"/>
<text x="519.5" y="413.28" font-size="6.8" text-anchor="end" class="ss" fill="#151515">20</text>
<line x1="520.5" y1="398.67" x2="522.9" y2="398.67" stroke="#444" stroke-width="0.9"/>
<text x="519.5" y="401.07" font-size="6.8" text-anchor="end" class="ss" fill="#151515">30</text>
<line x1="520.5" y1="386.46" x2="522.9" y2="386.46" stroke="#444" stroke-width="0.9"/>
<text x="519.5" y="388.86" font-size="6.8" text-anchor="end" class="ss" fill="#151515">40</text>
<line x1="520.5" y1="374.25" x2="522.9" y2="374.25" stroke="#444" stroke-width="0.9"/>
<text x="519.5" y="376.65" font-size="6.8" text-anchor="end" class="ss" fill="#151515">50</text>
<line x1="520.5" y1="362.04" x2="522.9" y2="362.04" stroke="#444" stroke-width="0.9"/>
<text x="519.5" y="364.44" font-size="6.8" text-anchor="end" class="ss" fill="#151515">60</text>
<line x1="520.5" y1="349.83" x2="522.9" y2="349.83" stroke="#444" stroke-width="0.9"/>
<text x="519.5" y="352.23" font-size="6.8" text-anchor="end" class="ss" fill="#151515">70</text>
<line x1="520.5" y1="337.62" x2="522.9" y2="337.62" stroke="#444" stroke-width="0.9"/>
<text x="519.5" y="340.02" font-size="6.8" text-anchor="end" class="ss" fill="#151515">80</text>
<line x1="520.5" y1="325.41" x2="522.9" y2="325.41" stroke="#444" stroke-width="0.9"/>
<text x="519.5" y="327.81" font-size="6.8" text-anchor="end" class="ss" fill="#151515">90</text>
<line x1="520.5" y1="313.2" x2="522.9" y2="313.2" stroke="#444" stroke-width="0.9"/>
<text x="519.5" y="315.6" font-size="6.8" text-anchor="end" class="ss" fill="#151515">100</text>
<line x1="536" y1="435.3" x2="536" y2="437.8" stroke="#444" stroke-width="0.9"/>
<text x="536" y="446" font-size="6.6" text-anchor="middle" class="ss" fill="#151515">HFD</text>
<line x1="561.9" y1="435.3" x2="561.9" y2="437.8" stroke="#444" stroke-width="0.9"/>
<text x="561.9" y="446" font-size="6.6" text-anchor="middle" class="ss" fill="#151515">NFD</text>
<text x="505.4" y="308.2" font-size="8.85" class="ss" font-weight="bold" fill="#151515">Phylum composition</text>
<text x="496.4" y="374.2" font-size="9.3" text-anchor="middle" class="ss" fill="#151515" transform="rotate(-90 496.4 374.2)">Relative abundance(%)</text>
<rect x="586.8" y="312.8" width="5.8" height="5.8" fill="#cccccc"/>
<text x="594.8" y="318.6" font-size="8.3" class="ss" fill="#151515">Unclassified</text>
<rect x="586.8" y="322.1" width="5.8" height="5.8" fill="#3b2e2c"/>
<text x="594.8" y="327.9" font-size="8.3" class="ss" fill="#151515">Other</text>
<rect x="586.8" y="331.4" width="5.8" height="5.8" fill="#3f8fe2"/>
<text x="594.8" y="337.2" font-size="8.3" class="ss" fill="#151515">Cyanobacteria</text>
<rect x="586.8" y="340.7" width="5.8" height="5.8" fill="#efe690"/>
<text x="594.8" y="346.5" font-size="8.3" class="ss" fill="#151515">Deferribacteres</text>
<rect x="586.8" y="350" width="5.8" height="5.8" fill="#20b4b8"/>
<text x="594.8" y="355.8" font-size="8.3" class="ss" fill="#151515">Epsilonbacteraeota</text>
<rect x="586.8" y="359.3" width="5.8" height="5.8" fill="#2b0a57"/>
<text x="594.8" y="365.1" font-size="8.3" class="ss" fill="#151515">Verrucomicrobia</text>
<rect x="586.8" y="368.6" width="5.8" height="5.8" fill="#e2d62c"/>
<text x="594.8" y="374.4" font-size="8.3" class="ss" fill="#151515">Euryarchaeota</text>
<rect x="586.8" y="377.9" width="5.8" height="5.8" fill="#1faa60"/>
<text x="594.8" y="383.7" font-size="8.3" class="ss" fill="#151515">Actinobacteria</text>
<rect x="586.8" y="387.2" width="5.8" height="5.8" fill="#7c1d7e"/>
<text x="594.8" y="393" font-size="8.3" class="ss" fill="#151515">Synergistetes</text>
<rect x="586.8" y="396.5" width="5.8" height="5.8" fill="#e2961f"/>
<text x="594.8" y="402.3" font-size="8.3" class="ss" fill="#151515">Proteobacteria</text>
<rect x="586.8" y="405.8" width="5.8" height="5.8" fill="#7dd0f0"/>
<text x="594.8" y="411.6" font-size="8.3" class="ss" fill="#151515">Bacteroidetes</text>
<rect x="586.8" y="415.1" width="5.8" height="5.8" fill="#e0272f"/>
<text x="594.8" y="420.9" font-size="8.3" class="ss" fill="#151515">Firmicutes</text>
<line x1="528.8" y1="604.7" x2="577" y2="604.7" stroke="#e9e9e9" stroke-width="0.6" stroke-dasharray="2 2.5"/>
<line x1="528.8" y1="592.77" x2="577" y2="592.77" stroke="#e9e9e9" stroke-width="0.6" stroke-dasharray="2 2.5"/>
<line x1="528.8" y1="580.84" x2="577" y2="580.84" stroke="#e9e9e9" stroke-width="0.6" stroke-dasharray="2 2.5"/>
<line x1="528.8" y1="568.91" x2="577" y2="568.91" stroke="#e9e9e9" stroke-width="0.6" stroke-dasharray="2 2.5"/>
<line x1="528.8" y1="556.98" x2="577" y2="556.98" stroke="#e9e9e9" stroke-width="0.6" stroke-dasharray="2 2.5"/>
<line x1="528.8" y1="545.05" x2="577" y2="545.05" stroke="#e9e9e9" stroke-width="0.6" stroke-dasharray="2 2.5"/>
<line x1="528.8" y1="533.12" x2="577" y2="533.12" stroke="#e9e9e9" stroke-width="0.6" stroke-dasharray="2 2.5"/>
<line x1="528.8" y1="521.19" x2="577" y2="521.19" stroke="#e9e9e9" stroke-width="0.6" stroke-dasharray="2 2.5"/>
<line x1="528.8" y1="509.26" x2="577" y2="509.26" stroke="#e9e9e9" stroke-width="0.6" stroke-dasharray="2 2.5"/>
<line x1="528.8" y1="497.33" x2="577" y2="497.33" stroke="#e9e9e9" stroke-width="0.6" stroke-dasharray="2 2.5"/>
<line x1="528.8" y1="485.4" x2="577" y2="485.4" stroke="#e9e9e9" stroke-width="0.6" stroke-dasharray="2 2.5"/>
<rect x="531.8" y="588" width="18.1" height="16.85" fill="#e0272f"/>
<rect x="531.8" y="580.24" width="18.1" height="7.9" fill="#7dd0f0"/>
<rect x="531.8" y="573.68" width="18.1" height="6.71" fill="#e2961f"/>
<rect x="531.8" y="568.91" width="18.1" height="4.92" fill="#7c1d7e"/>
<rect x="531.8" y="561.75" width="18.1" height="7.31" fill="#1faa60"/>
<rect x="531.8" y="552.21" width="18.1" height="9.69" fill="#e2d62c"/>
<rect x="531.8" y="549.82" width="18.1" height="2.54" fill="#2b0a57"/>
<rect x="531.8" y="545.05" width="18.1" height="4.92" fill="#20b4b8"/>
<rect x="531.8" y="539.09" width="18.1" height="6.11" fill="#efe690"/>
<rect x="531.8" y="533.72" width="18.1" height="5.52" fill="#3f8fe2"/>
<rect x="531.8" y="500.91" width="18.1" height="32.96" fill="#3b2e2c"/>
<rect x="531.8" y="485.4" width="18.1" height="15.66" fill="#cccccc"/>
<rect x="556" y="580.24" width="18.7" height="24.61" fill="#e0272f"/>
<rect x="556" y="571.3" width="18.7" height="9.1" fill="#7dd0f0"/>
<rect x="556" y="565.93" width="18.7" height="5.52" fill="#e2961f"/>
<rect x="556" y="558.77" width="18.7" height="7.31" fill="#7c1d7e"/>
<rect x="556" y="554.24" width="18.7" height="4.68" fill="#1faa60"/>
<rect x="556" y="553.88" width="18.7" height="0.51" fill="#e2d62c"/>
<rect x="556" y="549.23" width="18.7" height="4.8" fill="#2b0a57"/>
<rect x="556" y="545.05" width="18.7" height="4.33" fill="#20b4b8"/>
<rect x="556" y="543.86" width="18.7" height="1.34" fill="#efe690"/>
<rect x="556" y="541.47" width="18.7" height="2.54" fill="#3f8fe2"/>
<rect x="556" y="509.26" width="18.7" height="32.36" fill="#3b2e2c"/>
<rect x="556" y="485.4" width="18.7" height="24.01" fill="#cccccc"/>
<line x1="528.8" y1="485.1" x2="528.8" y2="605.2" stroke="#444" stroke-width="1"/>
<line x1="528.3" y1="604.7" x2="579" y2="604.7" stroke="#444" stroke-width="1"/>
<line x1="528.8" y1="604.7" x2="528.8" y2="607.2" stroke="#444" stroke-width="0.9"/>
<line x1="526.4" y1="604.7" x2="528.8" y2="604.7" stroke="#444" stroke-width="0.9"/>
<text x="525.4" y="607.1" font-size="6.8" text-anchor="end" class="ss" fill="#151515">0</text>
<line x1="526.4" y1="592.77" x2="528.8" y2="592.77" stroke="#444" stroke-width="0.9"/>
<text x="525.4" y="595.17" font-size="6.8" text-anchor="end" class="ss" fill="#151515">10</text>
<line x1="526.4" y1="580.84" x2="528.8" y2="580.84" stroke="#444" stroke-width="0.9"/>
<text x="525.4" y="583.24" font-size="6.8" text-anchor="end" class="ss" fill="#151515">20</text>
<line x1="526.4" y1="568.91" x2="528.8" y2="568.91" stroke="#444" stroke-width="0.9"/>
<text x="525.4" y="571.31" font-size="6.8" text-anchor="end" class="ss" fill="#151515">30</text>
<line x1="526.4" y1="556.98" x2="528.8" y2="556.98" stroke="#444" stroke-width="0.9"/>
<text x="525.4" y="559.38" font-size="6.8" text-anchor="end" class="ss" fill="#151515">40</text>
<line x1="526.4" y1="545.05" x2="528.8" y2="545.05" stroke="#444" stroke-width="0.9"/>
<text x="525.4" y="547.45" font-size="6.8" text-anchor="end" class="ss" fill="#151515">50</text>
<line x1="526.4" y1="533.12" x2="528.8" y2="533.12" stroke="#444" stroke-width="0.9"/>
<text x="525.4" y="535.52" font-size="6.8" text-anchor="end" class="ss" fill="#151515">60</text>
<line x1="526.4" y1="521.19" x2="528.8" y2="521.19" stroke="#444" stroke-width="0.9"/>
<text x="525.4" y="523.59" font-size="6.8" text-anchor="end" class="ss" fill="#151515">70</text>
<line x1="526.4" y1="509.26" x2="528.8" y2="509.26" stroke="#444" stroke-width="0.9"/>
<text x="525.4" y="511.66" font-size="6.8" text-anchor="end" class="ss" fill="#151515">80</text>
<line x1="526.4" y1="497.33" x2="528.8" y2="497.33" stroke="#444" stroke-width="0.9"/>
<text x="525.4" y="499.73" font-size="6.8" text-anchor="end" class="ss" fill="#151515">90</text>
<line x1="526.4" y1="485.4" x2="528.8" y2="485.4" stroke="#444" stroke-width="0.9"/>
<text x="525.4" y="487.8" font-size="6.8" text-anchor="end" class="ss" fill="#151515">100</text>
<line x1="541" y1="604.7" x2="541" y2="607.2" stroke="#444" stroke-width="0.9"/>
<text x="539.4" y="611.5" font-size="7.5" class="ss" fill="#151515" transform="rotate(33 539.4 611.5)">HFD</text>
<line x1="565.5" y1="604.7" x2="565.5" y2="607.2" stroke="#444" stroke-width="0.9"/>
<text x="563.9" y="611.5" font-size="7.5" class="ss" fill="#151515" transform="rotate(33 563.9 611.5)">NFD</text>
<text x="510.7" y="480.1" font-size="9.05" class="ss" font-weight="bold" fill="#151515">Genus composition</text>
<text x="501.4" y="544.7" font-size="9.3" text-anchor="middle" class="ss" fill="#151515" transform="rotate(-90 501.4 544.7)">Relative abundance(%)</text>
<rect x="592" y="484.6" width="5.8" height="5.8" fill="#cccccc"/>
<text x="600" y="490.4" font-size="8.5" class="ss" fill="#151515">Unclassified</text>
<rect x="592" y="494.09" width="5.8" height="5.8" fill="#3b2e2c"/>
<text x="600" y="499.89" font-size="8.5" class="ss" fill="#151515">Other</text>
<rect x="592" y="503.58" width="5.8" height="5.8" fill="#3f8fe2"/>
<text x="600" y="509.38" font-size="8.5" class="ss" fill="#151515">Alistipes</text>
<rect x="592" y="513.07" width="5.8" height="5.8" fill="#efe690"/>
<text x="600" y="518.87" font-size="8.5" class="ss" fill="#151515">Alloprevotella</text>
<rect x="592" y="522.56" width="5.8" height="5.8" fill="#20b4b8"/>
<text x="600" y="528.36" font-size="8.5" class="ss" fill="#151515">Rikenellaceae_RC9_gut_group</text>
<rect x="592" y="532.05" width="5.8" height="5.8" fill="#2b0a57"/>
<text x="600" y="537.85" font-size="8.5" class="ss" fill="#151515">Prevotellaceae_UCG-001</text>
<rect x="592" y="541.54" width="5.8" height="5.8" fill="#e2d62c"/>
<text x="600" y="547.34" font-size="8.5" class="ss" fill="#151515">Escherichia-Shigella</text>
<rect x="592" y="551.03" width="5.8" height="5.8" fill="#1faa60"/>
<text x="600" y="556.83" font-size="8.5" class="ss" fill="#151515">Faecalibacterium</text>
<rect x="592" y="560.52" width="5.8" height="5.8" fill="#7c1d7e"/>
<text x="600" y="566.32" font-size="8.5" class="ss" fill="#151515">Ruminococcus_torques_group</text>
<rect x="592" y="570.01" width="5.8" height="5.8" fill="#e2961f"/>
<text x="600" y="575.81" font-size="8.5" class="ss" fill="#151515">Phascolarctobacterium</text>
<rect x="592" y="579.5" width="5.8" height="5.8" fill="#7dd0f0"/>
<text x="600" y="585.3" font-size="8.5" class="ss" fill="#151515">Megamonas</text>
<rect x="592" y="588.99" width="5.8" height="5.8" fill="#e0272f"/>
<text x="600" y="594.79" font-size="8.5" class="ss" fill="#151515">Bacteroides</text>
<rect x="38.4" y="560.1" width="15.8" height="20" fill="#3db54a" stroke="#484848" stroke-width="0.9"/>
<rect x="63.3" y="505.2" width="15.8" height="74.9" fill="#ff7f0e" stroke="#484848" stroke-width="0.9"/>
<line x1="46.2" y1="556" x2="46.2" y2="560.1" stroke="#555" stroke-width="1"/>
<line x1="43" y1="556" x2="49.4" y2="556" stroke="#555" stroke-width="1"/>
<line x1="71.2" y1="482.4" x2="71.2" y2="505.2" stroke="#555" stroke-width="1"/>
<line x1="68" y1="482.4" x2="74.4" y2="482.4" stroke="#555" stroke-width="1"/>
<path d="M48.2 553.2L51.1 556.1L48.2 559L45.3 556.1Z" fill="#3a3a3a"/>
<path d="M44.2 555.9L47.1 558.8L44.2 561.7L41.3 558.8Z" fill="#3a3a3a"/>
<path d="M46 558.6L48.9 561.5L46 564.4L43.1 561.5Z" fill="#3a3a3a"/>
<path d="M43.7 562.2L46.6 565.1L43.7 568L40.8 565.1Z" fill="#3a3a3a"/>
<path d="M71.7 479.5L74.6 482.4L71.7 485.3L68.8 482.4Z" fill="#3a3a3a"/>
<path d="M69.2 493.6L72.1 496.5L69.2 499.4L66.3 496.5Z" fill="#3a3a3a"/>
<path d="M71.9 504.5L74.8 507.4L71.9 510.3L69 507.4Z" fill="#3a3a3a"/>
<path d="M70.4 508.4L73.3 511.3L70.4 514.2L67.5 511.3Z" fill="#3a3a3a"/>
<path d="M71.1 526.7L74 529.6L71.1 532.5L68.2 529.6Z" fill="#3a3a3a"/>
<line x1="33.9" y1="472.7" x2="33.9" y2="580.6" stroke="#3c3c3c" stroke-width="1"/>
<line x1="33.4" y1="580.1" x2="83.5" y2="580.1" stroke="#3c3c3c" stroke-width="1"/>
<line x1="29.7" y1="580.1" x2="33.9" y2="580.1" stroke="#3c3c3c" stroke-width="1"/>
<text x="27.3" y="582.77" font-size="8.1" text-anchor="end" class="sf" fill="#1a1a1a">0</text>
<line x1="29.7" y1="568.24" x2="33.9" y2="568.24" stroke="#3c3c3c" stroke-width="1"/>
<text x="27.3" y="570.92" font-size="8.1" text-anchor="end" class="sf" fill="#1a1a1a">2</text>
<line x1="29.7" y1="556.39" x2="33.9" y2="556.39" stroke="#3c3c3c" stroke-width="1"/>
<text x="27.3" y="559.06" font-size="8.1" text-anchor="end" class="sf" fill="#1a1a1a">4</text>
<line x1="29.7" y1="544.53" x2="33.9" y2="544.53" stroke="#3c3c3c" stroke-width="1"/>
<text x="27.3" y="547.21" font-size="8.1" text-anchor="end" class="sf" fill="#1a1a1a">6</text>
<line x1="29.7" y1="532.68" x2="33.9" y2="532.68" stroke="#3c3c3c" stroke-width="1"/>
<text x="27.3" y="535.35" font-size="8.1" text-anchor="end" class="sf" fill="#1a1a1a">8</text>
<line x1="29.7" y1="520.82" x2="33.9" y2="520.82" stroke="#3c3c3c" stroke-width="1"/>
<text x="27.3" y="523.5" font-size="8.1" text-anchor="end" class="sf" fill="#1a1a1a">10</text>
<line x1="29.7" y1="508.97" x2="33.9" y2="508.97" stroke="#3c3c3c" stroke-width="1"/>
<text x="27.3" y="511.64" font-size="8.1" text-anchor="end" class="sf" fill="#1a1a1a">12</text>
<line x1="29.7" y1="497.11" x2="33.9" y2="497.11" stroke="#3c3c3c" stroke-width="1"/>
<text x="27.3" y="499.78" font-size="8.1" text-anchor="end" class="sf" fill="#1a1a1a">14</text>
<line x1="29.7" y1="485.26" x2="33.9" y2="485.26" stroke="#3c3c3c" stroke-width="1"/>
<text x="27.3" y="487.93" font-size="8.1" text-anchor="end" class="sf" fill="#1a1a1a">16</text>
<line x1="29.7" y1="473.4" x2="33.9" y2="473.4" stroke="#3c3c3c" stroke-width="1"/>
<text x="27.3" y="476.07" font-size="8.1" text-anchor="end" class="sf" fill="#1a1a1a">18</text>
<line x1="31.4" y1="574.17" x2="33.9" y2="574.17" stroke="#3c3c3c" stroke-width="0.9"/>
<line x1="31.4" y1="562.32" x2="33.9" y2="562.32" stroke="#3c3c3c" stroke-width="0.9"/>
<line x1="31.4" y1="550.46" x2="33.9" y2="550.46" stroke="#3c3c3c" stroke-width="0.9"/>
<line x1="31.4" y1="538.61" x2="33.9" y2="538.61" stroke="#3c3c3c" stroke-width="0.9"/>
<line x1="31.4" y1="526.75" x2="33.9" y2="526.75" stroke="#3c3c3c" stroke-width="0.9"/>
<line x1="31.4" y1="514.89" x2="33.9" y2="514.89" stroke="#3c3c3c" stroke-width="0.9"/>
<line x1="31.4" y1="503.04" x2="33.9" y2="503.04" stroke="#3c3c3c" stroke-width="0.9"/>
<line x1="31.4" y1="491.18" x2="33.9" y2="491.18" stroke="#3c3c3c" stroke-width="0.9"/>
<line x1="31.4" y1="479.33" x2="33.9" y2="479.33" stroke="#3c3c3c" stroke-width="0.9"/>
<line x1="46.2" y1="580.1" x2="46.2" y2="583.7" stroke="#3c3c3c" stroke-width="1"/>
<text x="46.2" y="593.8" font-size="8" text-anchor="middle" class="sf" fill="#1a1a1a">NFD</text>
<line x1="71.1" y1="580.1" x2="71.1" y2="583.7" stroke="#3c3c3c" stroke-width="1"/>
<text x="71.1" y="593.8" font-size="8" text-anchor="middle" class="sf" fill="#1a1a1a">HFD</text>
<line x1="46.6" y1="476.7" x2="71.3" y2="476.7" stroke="#555" stroke-width="1.4"/>
<text x="58.95" y="478.49" font-size="10.5" text-anchor="middle" class="sf" fill="#1a1a1a" stroke="#1a1a1a" stroke-width="0.25">**</text>
<text x="15" y="526.65" font-size="8.95" text-anchor="middle" class="sf" fill="#1a1a1a" transform="rotate(-90 15 526.65)">Proteobacteria abundance</text>
<rect x="132.1" y="551.2" width="15.8" height="28.9" fill="#3db54a" stroke="#484848" stroke-width="0.9"/>
<rect x="157" y="578.3" width="15.8" height="1.8" fill="#ff7f0e" stroke="#484848" stroke-width="0.9"/>
<line x1="140.4" y1="541.7" x2="140.4" y2="551.2" stroke="#555" stroke-width="1"/>
<line x1="136.6" y1="541.7" x2="144.2" y2="541.7" stroke="#555" stroke-width="1"/>
<line x1="165.2" y1="577.4" x2="165.2" y2="578.3" stroke="#555" stroke-width="1"/>
<line x1="162.2" y1="577.4" x2="168.2" y2="577.4" stroke="#555" stroke-width="1"/>
<path d="M138.8 481L141.7 483.9L138.8 486.8L135.9 483.9Z" fill="#3a3a3a"/>
<path d="M139.3 538.8L142.2 541.7L139.3 544.6L136.4 541.7Z" fill="#3a3a3a"/>
<path d="M142.4 571.8L145.3 574.7L142.4 577.6L139.5 574.7Z" fill="#3a3a3a"/>
<path d="M138.4 574.5L141.3 577.4L138.4 580.3L135.5 577.4Z" fill="#3a3a3a"/>
<path d="M139.7 575.4L142.6 578.3L139.7 581.2L136.8 578.3Z" fill="#3a3a3a"/>
<path d="M164.9 574.3L167.8 577.2L164.9 580.1L162 577.2Z" fill="#3a3a3a"/>
<path d="M164 575.4L166.9 578.3L164 581.2L161.1 578.3Z" fill="#3a3a3a"/>
<path d="M165.8 575.8L168.7 578.7L165.8 581.6L162.9 578.7Z" fill="#3a3a3a"/>
<line x1="127.6" y1="472.7" x2="127.6" y2="580.6" stroke="#3c3c3c" stroke-width="1"/>
<line x1="127.1" y1="580.1" x2="177.2" y2="580.1" stroke="#3c3c3c" stroke-width="1"/>
<line x1="123.4" y1="580.1" x2="127.6" y2="580.1" stroke="#3c3c3c" stroke-width="1"/>
<text x="121" y="582.77" font-size="8.1" text-anchor="end" class="sf" fill="#1a1a1a">0.00</text>
<line x1="123.4" y1="568.87" x2="127.6" y2="568.87" stroke="#3c3c3c" stroke-width="1"/>
<text x="121" y="571.54" font-size="8.1" text-anchor="end" class="sf" fill="#1a1a1a">0.02</text>
<line x1="123.4" y1="557.63" x2="127.6" y2="557.63" stroke="#3c3c3c" stroke-width="1"/>
<text x="121" y="560.31" font-size="8.1" text-anchor="end" class="sf" fill="#1a1a1a">0.04</text>
<line x1="123.4" y1="546.4" x2="127.6" y2="546.4" stroke="#3c3c3c" stroke-width="1"/>
<text x="121" y="549.07" font-size="8.1" text-anchor="end" class="sf" fill="#1a1a1a">0.06</text>
<line x1="123.4" y1="535.17" x2="127.6" y2="535.17" stroke="#3c3c3c" stroke-width="1"/>
<text x="121" y="537.84" font-size="8.1" text-anchor="end" class="sf" fill="#1a1a1a">0.08</text>
<line x1="123.4" y1="523.93" x2="127.6" y2="523.93" stroke="#3c3c3c" stroke-width="1"/>
<text x="121" y="526.61" font-size="8.1" text-anchor="end" class="sf" fill="#1a1a1a">0.10</text>
<line x1="123.4" y1="512.7" x2="127.6" y2="512.7" stroke="#3c3c3c" stroke-width="1"/>
<text x="121" y="515.37" font-size="8.1" text-anchor="end" class="sf" fill="#1a1a1a">0.12</text>
<line x1="123.4" y1="501.47" x2="127.6" y2="501.47" stroke="#3c3c3c" stroke-width="1"/>
<text x="121" y="504.14" font-size="8.1" text-anchor="end" class="sf" fill="#1a1a1a">0.14</text>
<line x1="123.4" y1="490.23" x2="127.6" y2="490.23" stroke="#3c3c3c" stroke-width="1"/>
<text x="121" y="492.91" font-size="8.1" text-anchor="end" class="sf" fill="#1a1a1a">0.16</text>
<line x1="123.4" y1="479" x2="127.6" y2="479" stroke="#3c3c3c" stroke-width="1"/>
<text x="121" y="481.67" font-size="8.1" text-anchor="end" class="sf" fill="#1a1a1a">0.18</text>
<line x1="125.1" y1="574.48" x2="127.6" y2="574.48" stroke="#3c3c3c" stroke-width="0.9"/>
<line x1="125.1" y1="563.25" x2="127.6" y2="563.25" stroke="#3c3c3c" stroke-width="0.9"/>
<line x1="125.1" y1="552.02" x2="127.6" y2="552.02" stroke="#3c3c3c" stroke-width="0.9"/>
<line x1="125.1" y1="540.78" x2="127.6" y2="540.78" stroke="#3c3c3c" stroke-width="0.9"/>
<line x1="125.1" y1="529.55" x2="127.6" y2="529.55" stroke="#3c3c3c" stroke-width="0.9"/>
<line x1="125.1" y1="518.32" x2="127.6" y2="518.32" stroke="#3c3c3c" stroke-width="0.9"/>
<line x1="125.1" y1="507.08" x2="127.6" y2="507.08" stroke="#3c3c3c" stroke-width="0.9"/>
<line x1="125.1" y1="495.85" x2="127.6" y2="495.85" stroke="#3c3c3c" stroke-width="0.9"/>
<line x1="125.1" y1="484.62" x2="127.6" y2="484.62" stroke="#3c3c3c" stroke-width="0.9"/>
<line x1="125.1" y1="473.38" x2="127.6" y2="473.38" stroke="#3c3c3c" stroke-width="0.9"/>
<line x1="139.9" y1="580.1" x2="139.9" y2="583.7" stroke="#3c3c3c" stroke-width="1"/>
<text x="139.9" y="593.8" font-size="8" text-anchor="middle" class="sf" fill="#1a1a1a">NFD</text>
<line x1="164.8" y1="580.1" x2="164.8" y2="583.7" stroke="#3c3c3c" stroke-width="1"/>
<text x="164.8" y="593.8" font-size="8" text-anchor="middle" class="sf" fill="#1a1a1a">HFD</text>
<line x1="138.8" y1="477.9" x2="163.1" y2="477.9" stroke="#555" stroke-width="1.4"/>
<text x="150.95" y="479.69" font-size="10.5" text-anchor="middle" class="sf" fill="#1a1a1a" stroke="#1a1a1a" stroke-width="0.25">*</text>
<text x="103.1" y="526.65" font-size="8.95" text-anchor="middle" class="sf" fill="#1a1a1a" transform="rotate(-90 103.1 526.65)">Enterococcus abundance</text>
<rect x="226.9" y="574.5" width="15.8" height="5.6" fill="#3db54a" stroke="#484848" stroke-width="0.9"/>
<rect x="251.8" y="504.3" width="15.8" height="75.8" fill="#ff7f0e" stroke="#484848" stroke-width="0.9"/>
<line x1="234.8" y1="573.5" x2="234.8" y2="574.5" stroke="#555" stroke-width="1"/>
<line x1="231.8" y1="573.5" x2="237.8" y2="573.5" stroke="#555" stroke-width="1"/>
<line x1="259.7" y1="489.3" x2="259.7" y2="504.3" stroke="#555" stroke-width="1"/>
<line x1="256.5" y1="489.3" x2="262.9" y2="489.3" stroke="#555" stroke-width="1"/>
<path d="M233 564.8L235.9 567.7L233 570.6L230.1 567.7Z" fill="#3a3a3a"/>
<path d="M232.5 572.7L235.4 575.6L232.5 578.5L229.6 575.6Z" fill="#3a3a3a"/>
<path d="M235 573.6L237.9 576.5L235 579.4L232.1 576.5Z" fill="#3a3a3a"/>
<path d="M237.4 573.4L240.3 576.3L237.4 579.2L234.5 576.3Z" fill="#3a3a3a"/>
<path d="M260.8 486.4L263.7 489.3L260.8 492.2L257.9 489.3Z" fill="#3a3a3a"/>
<path d="M257.6 491.3L260.5 494.2L257.6 497.1L254.7 494.2Z" fill="#3a3a3a"/>
<path d="M260.3 495.1L263.2 498L260.3 500.9L257.4 498Z" fill="#3a3a3a"/>
<path d="M259.4 511L262.3 513.9L259.4 516.8L256.5 513.9Z" fill="#3a3a3a"/>
<path d="M259.9 524.9L262.8 527.8L259.9 530.7L257 527.8Z" fill="#3a3a3a"/>
<line x1="222.4" y1="472.7" x2="222.4" y2="580.6" stroke="#3c3c3c" stroke-width="1"/>
<line x1="221.9" y1="580.1" x2="272" y2="580.1" stroke="#3c3c3c" stroke-width="1"/>
<line x1="218.2" y1="580.1" x2="222.4" y2="580.1" stroke="#3c3c3c" stroke-width="1"/>
<text x="215.8" y="582.77" font-size="8.1" text-anchor="end" class="sf" fill="#1a1a1a">0</text>
<line x1="218.2" y1="560.74" x2="222.4" y2="560.74" stroke="#3c3c3c" stroke-width="1"/>
<text x="215.8" y="563.41" font-size="8.1" text-anchor="end" class="sf" fill="#1a1a1a">2</text>
<line x1="218.2" y1="541.38" x2="222.4" y2="541.38" stroke="#3c3c3c" stroke-width="1"/>
<text x="215.8" y="544.05" font-size="8.1" text-anchor="end" class="sf" fill="#1a1a1a">4</text>
<line x1="218.2" y1="522.02" x2="222.4" y2="522.02" stroke="#3c3c3c" stroke-width="1"/>
<text x="215.8" y="524.69" font-size="8.1" text-anchor="end" class="sf" fill="#1a1a1a">6</text>
<line x1="218.2" y1="502.66" x2="222.4" y2="502.66" stroke="#3c3c3c" stroke-width="1"/>
<text x="215.8" y="505.33" font-size="8.1" text-anchor="end" class="sf" fill="#1a1a1a">8</text>
<line x1="218.2" y1="483.3" x2="222.4" y2="483.3" stroke="#3c3c3c" stroke-width="1"/>
<text x="215.8" y="485.97" font-size="8.1" text-anchor="end" class="sf" fill="#1a1a1a">10</text>
<line x1="219.9" y1="570.42" x2="222.4" y2="570.42" stroke="#3c3c3c" stroke-width="0.9"/>
<line x1="219.9" y1="551.06" x2="222.4" y2="551.06" stroke="#3c3c3c" stroke-width="0.9"/>
<line x1="219.9" y1="531.7" x2="222.4" y2="531.7" stroke="#3c3c3c" stroke-width="0.9"/>
<line x1="219.9" y1="512.34" x2="222.4" y2="512.34" stroke="#3c3c3c" stroke-width="0.9"/>
<line x1="219.9" y1="492.98" x2="222.4" y2="492.98" stroke="#3c3c3c" stroke-width="0.9"/>
<line x1="219.9" y1="473.62" x2="222.4" y2="473.62" stroke="#3c3c3c" stroke-width="0.9"/>
<line x1="234.7" y1="580.1" x2="234.7" y2="583.7" stroke="#3c3c3c" stroke-width="1"/>
<text x="234.7" y="593.8" font-size="8" text-anchor="middle" class="sf" fill="#1a1a1a">NFD</text>
<line x1="259.6" y1="580.1" x2="259.6" y2="583.7" stroke="#3c3c3c" stroke-width="1"/>
<text x="259.6" y="593.8" font-size="8" text-anchor="middle" class="sf" fill="#1a1a1a">HFD</text>
<line x1="234.1" y1="478.3" x2="258.7" y2="478.3" stroke="#555" stroke-width="1.4"/>
<text x="246.4" y="480.09" font-size="10.5" text-anchor="middle" class="sf" fill="#1a1a1a" stroke="#1a1a1a" stroke-width="0.25">*</text>
<text x="202.8" y="526.65" font-size="9.92" text-anchor="middle" class="sf" fill="#1a1a1a" transform="rotate(-90 202.8 526.65)">Escherichia-Shigella abundance</text>
<rect x="321.5" y="529.2" width="15.8" height="50.9" fill="#3db54a" stroke="#484848" stroke-width="0.9"/>
<rect x="346.4" y="567.9" width="15.8" height="12.2" fill="#ff7f0e" stroke="#484848" stroke-width="0.9"/>
<line x1="329.4" y1="483" x2="329.4" y2="529.2" stroke="#555" stroke-width="1"/>
<line x1="325.6" y1="483" x2="333.2" y2="483" stroke="#555" stroke-width="1"/>
<line x1="354.4" y1="553.4" x2="354.4" y2="567.9" stroke="#555" stroke-width="1"/>
<line x1="350.9" y1="553.4" x2="357.9" y2="553.4" stroke="#555" stroke-width="1"/>
<path d="M331.8 480.1L334.7 483L331.8 485.9L328.9 483Z" fill="#3a3a3a"/>
<path d="M327.8 486.9L330.7 489.8L327.8 492.7L324.9 489.8Z" fill="#3a3a3a"/>
<path d="M327.5 549.6L330.4 552.5L327.5 555.4L324.6 552.5Z" fill="#3a3a3a"/>
<path d="M326.9 557.2L329.8 560.1L326.9 563L324 560.1Z" fill="#3a3a3a"/>
<path d="M328.8 559L331.7 561.9L328.8 564.8L325.9 561.9Z" fill="#3a3a3a"/>
<path d="M354.6 550.5L357.5 553.4L354.6 556.3L351.7 553.4Z" fill="#3a3a3a"/>
<path d="M355.3 561.7L358.2 564.6L355.3 567.5L352.4 564.6Z" fill="#3a3a3a"/>
<path d="M352.2 567.1L355.1 570L352.2 572.9L349.3 570Z" fill="#3a3a3a"/>
<path d="M354 570.7L356.9 573.6L354 576.5L351.1 573.6Z" fill="#3a3a3a"/>
<path d="M353.1 574.9L356 577.8L353.1 580.7L350.2 577.8Z" fill="#3a3a3a"/>
<line x1="317" y1="472.7" x2="317" y2="580.6" stroke="#3c3c3c" stroke-width="1"/>
<line x1="316.5" y1="580.1" x2="366.6" y2="580.1" stroke="#3c3c3c" stroke-width="1"/>
<line x1="312.8" y1="580.1" x2="317" y2="580.1" stroke="#3c3c3c" stroke-width="1"/>
<text x="310.4" y="582.77" font-size="8.1" text-anchor="end" class="sf" fill="#1a1a1a">0.0</text>
<line x1="312.8" y1="563.7" x2="317" y2="563.7" stroke="#3c3c3c" stroke-width="1"/>
<text x="310.4" y="566.37" font-size="8.1" text-anchor="end" class="sf" fill="#1a1a1a">0.1</text>
<line x1="312.8" y1="547.3" x2="317" y2="547.3" stroke="#3c3c3c" stroke-width="1"/>
<text x="310.4" y="549.97" font-size="8.1" text-anchor="end" class="sf" fill="#1a1a1a">0.2</text>
<line x1="312.8" y1="530.9" x2="317" y2="530.9" stroke="#3c3c3c" stroke-width="1"/>
<text x="310.4" y="533.57" font-size="8.1" text-anchor="end" class="sf" fill="#1a1a1a">0.3</text>
<line x1="312.8" y1="514.5" x2="317" y2="514.5" stroke="#3c3c3c" stroke-width="1"/>
<text x="310.4" y="517.17" font-size="8.1" text-anchor="end" class="sf" fill="#1a1a1a">0.4</text>
<line x1="312.8" y1="498.1" x2="317" y2="498.1" stroke="#3c3c3c" stroke-width="1"/>
<text x="310.4" y="500.77" font-size="8.1" text-anchor="end" class="sf" fill="#1a1a1a">0.5</text>
<line x1="312.8" y1="481.7" x2="317" y2="481.7" stroke="#3c3c3c" stroke-width="1"/>
<text x="310.4" y="484.37" font-size="8.1" text-anchor="end" class="sf" fill="#1a1a1a">0.6</text>
<line x1="314.5" y1="571.9" x2="317" y2="571.9" stroke="#3c3c3c" stroke-width="0.9"/>
<line x1="314.5" y1="555.5" x2="317" y2="555.5" stroke="#3c3c3c" stroke-width="0.9"/>
<line x1="314.5" y1="539.1" x2="317" y2="539.1" stroke="#3c3c3c" stroke-width="0.9"/>
<line x1="314.5" y1="522.7" x2="317" y2="522.7" stroke="#3c3c3c" stroke-width="0.9"/>
<line x1="314.5" y1="506.3" x2="317" y2="506.3" stroke="#3c3c3c" stroke-width="0.9"/>
<line x1="314.5" y1="489.9" x2="317" y2="489.9" stroke="#3c3c3c" stroke-width="0.9"/>
<line x1="314.5" y1="473.5" x2="317" y2="473.5" stroke="#3c3c3c" stroke-width="0.9"/>
<line x1="329.3" y1="580.1" x2="329.3" y2="583.7" stroke="#3c3c3c" stroke-width="1"/>
<text x="329.3" y="593.8" font-size="8" text-anchor="middle" class="sf" fill="#1a1a1a">NFD</text>
<line x1="354.2" y1="580.1" x2="354.2" y2="583.7" stroke="#3c3c3c" stroke-width="1"/>
<text x="354.2" y="593.8" font-size="8" text-anchor="middle" class="sf" fill="#1a1a1a">HFD</text>
<line x1="329.1" y1="477.9" x2="354" y2="477.9" stroke="#555" stroke-width="1.4"/>
<text x="341.55" y="479.69" font-size="10.5" text-anchor="middle" class="sf" fill="#1a1a1a" stroke="#1a1a1a" stroke-width="0.25">*</text>
<text x="295.8" y="526.65" font-size="8.95" text-anchor="middle" class="sf" fill="#1a1a1a" transform="rotate(-90 295.8 526.65)">Flavonifractor abundance</text>
<rect x="415.7" y="579.2" width="15.8" height="0.9" fill="#3db54a" stroke="#484848" stroke-width="0.9"/>
<rect x="440.6" y="552.1" width="15.8" height="28" fill="#ff7f0e" stroke="#484848" stroke-width="0.9"/>
<line x1="423.5" y1="578.5" x2="423.5" y2="579.2" stroke="#555" stroke-width="1"/>
<line x1="420.5" y1="578.5" x2="426.5" y2="578.5" stroke="#555" stroke-width="1"/>
<line x1="448.5" y1="542.2" x2="448.5" y2="552.1" stroke="#555" stroke-width="1"/>
<line x1="444.7" y1="542.2" x2="452.3" y2="542.2" stroke="#555" stroke-width="1"/>
<path d="M422 575.3L424.9 578.2L422 581.1L419.1 578.2Z" fill="#3a3a3a"/>
<path d="M425.1 576.3L428 579.2L425.1 582.1L422.2 579.2Z" fill="#3a3a3a"/>
<path d="M448.9 480.4L451.8 483.3L448.9 486.2L446 483.3Z" fill="#3a3a3a"/>
<path d="M446.6 539.3L449.5 542.2L446.6 545.1L443.7 542.2Z" fill="#3a3a3a"/>
<path d="M448.9 574.9L451.8 577.8L448.9 580.7L446 577.8Z" fill="#3a3a3a"/>
<path d="M448 575.6L450.9 578.5L448 581.4L445.1 578.5Z" fill="#3a3a3a"/>
<line x1="411.2" y1="472.7" x2="411.2" y2="580.6" stroke="#3c3c3c" stroke-width="1"/>
<line x1="410.7" y1="580.1" x2="460.8" y2="580.1" stroke="#3c3c3c" stroke-width="1"/>
<line x1="407" y1="580.1" x2="411.2" y2="580.1" stroke="#3c3c3c" stroke-width="1"/>
<text x="404.6" y="582.77" font-size="8.1" text-anchor="end" class="sf" fill="#1a1a1a">0.00</text>
<line x1="407" y1="564.86" x2="411.2" y2="564.86" stroke="#3c3c3c" stroke-width="1"/>
<text x="404.6" y="567.53" font-size="8.1" text-anchor="end" class="sf" fill="#1a1a1a">0.05</text>
<line x1="407" y1="549.61" x2="411.2" y2="549.61" stroke="#3c3c3c" stroke-width="1"/>
<text x="404.6" y="552.29" font-size="8.1" text-anchor="end" class="sf" fill="#1a1a1a">0.10</text>
<line x1="407" y1="534.37" x2="411.2" y2="534.37" stroke="#3c3c3c" stroke-width="1"/>
<text x="404.6" y="537.04" font-size="8.1" text-anchor="end" class="sf" fill="#1a1a1a">0.15</text>
<line x1="407" y1="519.13" x2="411.2" y2="519.13" stroke="#3c3c3c" stroke-width="1"/>
<text x="404.6" y="521.8" font-size="8.1" text-anchor="end" class="sf" fill="#1a1a1a">0.20</text>
<line x1="407" y1="503.89" x2="411.2" y2="503.89" stroke="#3c3c3c" stroke-width="1"/>
<text x="404.6" y="506.56" font-size="8.1" text-anchor="end" class="sf" fill="#1a1a1a">0.25</text>
<line x1="407" y1="488.64" x2="411.2" y2="488.64" stroke="#3c3c3c" stroke-width="1"/>
<text x="404.6" y="491.32" font-size="8.1" text-anchor="end" class="sf" fill="#1a1a1a">0.30</text>
<line x1="407" y1="473.4" x2="411.2" y2="473.4" stroke="#3c3c3c" stroke-width="1"/>
<text x="404.6" y="476.07" font-size="8.1" text-anchor="end" class="sf" fill="#1a1a1a">0.35</text>
<line x1="408.7" y1="572.48" x2="411.2" y2="572.48" stroke="#3c3c3c" stroke-width="0.9"/>
<line x1="408.7" y1="557.24" x2="411.2" y2="557.24" stroke="#3c3c3c" stroke-width="0.9"/>
<line x1="408.7" y1="541.99" x2="411.2" y2="541.99" stroke="#3c3c3c" stroke-width="0.9"/>
<line x1="408.7" y1="526.75" x2="411.2" y2="526.75" stroke="#3c3c3c" stroke-width="0.9"/>
<line x1="408.7" y1="511.51" x2="411.2" y2="511.51" stroke="#3c3c3c" stroke-width="0.9"/>
<line x1="408.7" y1="496.26" x2="411.2" y2="496.26" stroke="#3c3c3c" stroke-width="0.9"/>
<line x1="408.7" y1="481.02" x2="411.2" y2="481.02" stroke="#3c3c3c" stroke-width="0.9"/>
<line x1="423.5" y1="580.1" x2="423.5" y2="583.7" stroke="#3c3c3c" stroke-width="1"/>
<text x="423.5" y="593.8" font-size="8" text-anchor="middle" class="sf" fill="#1a1a1a">NFD</text>
<line x1="448.4" y1="580.1" x2="448.4" y2="583.7" stroke="#3c3c3c" stroke-width="1"/>
<text x="448.4" y="593.8" font-size="8" text-anchor="middle" class="sf" fill="#1a1a1a">HFD</text>
<line x1="423.3" y1="477.9" x2="447.6" y2="477.9" stroke="#555" stroke-width="1.4"/>
<text x="435.45" y="479.69" font-size="10.5" text-anchor="middle" class="sf" fill="#1a1a1a" stroke="#1a1a1a" stroke-width="0.25">*</text>
<text x="385.8" y="526.65" font-size="8.95" text-anchor="middle" class="sf" fill="#1a1a1a" transform="rotate(-90 385.8 526.65)">Helicobacter abundance</text>
<rect x="38.4" y="707.4" width="15.8" height="2.7" fill="#3db54a" stroke="#484848" stroke-width="0.9"/>
<rect x="63.3" y="662.1" width="15.8" height="48" fill="#ff7f0e" stroke="#484848" stroke-width="0.9"/>
<line x1="46.2" y1="706" x2="46.2" y2="707.4" stroke="#555" stroke-width="1"/>
<line x1="43.2" y1="706" x2="49.2" y2="706" stroke="#555" stroke-width="1"/>
<line x1="71.2" y1="658.7" x2="71.2" y2="662.1" stroke="#555" stroke-width="1"/>
<line x1="67.7" y1="658.7" x2="74.7" y2="658.7" stroke="#555" stroke-width="1"/>
<path d="M44.2 702.7L47.1 705.6L44.2 708.5L41.3 705.6Z" fill="#3a3a3a"/>
<path d="M47.5 704.5L50.4 707.4L47.5 710.3L44.6 707.4Z" fill="#3a3a3a"/>
<path d="M45.1 705.8L48 708.7L45.1 711.6L42.2 708.7Z" fill="#3a3a3a"/>
<path d="M69.2 613.7L72.1 616.6L69.2 619.5L66.3 616.6Z" fill="#3a3a3a"/>
<path d="M71 655.8L73.9 658.7L71 661.6L68.1 658.7Z" fill="#3a3a3a"/>
<path d="M71 675.3L73.9 678.2L71 681.1L68.1 678.2Z" fill="#3a3a3a"/>
<path d="M71.9 694.6L74.8 697.5L71.9 700.4L69 697.5Z" fill="#3a3a3a"/>
<line x1="33.9" y1="602.7" x2="33.9" y2="710.6" stroke="#3c3c3c" stroke-width="1"/>
<line x1="33.4" y1="710.1" x2="83.5" y2="710.1" stroke="#3c3c3c" stroke-width="1"/>
<line x1="29.7" y1="710.1" x2="33.9" y2="710.1" stroke="#3c3c3c" stroke-width="1"/>
<text x="27.3" y="712.77" font-size="8.1" text-anchor="end" class="sf" fill="#1a1a1a">0.0</text>
<line x1="29.7" y1="697.51" x2="33.9" y2="697.51" stroke="#3c3c3c" stroke-width="1"/>
<text x="27.3" y="700.19" font-size="8.1" text-anchor="end" class="sf" fill="#1a1a1a">0.5</text>
<line x1="29.7" y1="684.92" x2="33.9" y2="684.92" stroke="#3c3c3c" stroke-width="1"/>
<text x="27.3" y="687.6" font-size="8.1" text-anchor="end" class="sf" fill="#1a1a1a">1.0</text>
<line x1="29.7" y1="672.34" x2="33.9" y2="672.34" stroke="#3c3c3c" stroke-width="1"/>
<text x="27.3" y="675.01" font-size="8.1" text-anchor="end" class="sf" fill="#1a1a1a">1.5</text>
<line x1="29.7" y1="659.75" x2="33.9" y2="659.75" stroke="#3c3c3c" stroke-width="1"/>
<text x="27.3" y="662.42" font-size="8.1" text-anchor="end" class="sf" fill="#1a1a1a">2.0</text>
<line x1="29.7" y1="647.16" x2="33.9" y2="647.16" stroke="#3c3c3c" stroke-width="1"/>
<text x="27.3" y="649.84" font-size="8.1" text-anchor="end" class="sf" fill="#1a1a1a">2.5</text>
<line x1="29.7" y1="634.58" x2="33.9" y2="634.58" stroke="#3c3c3c" stroke-width="1"/>
<text x="27.3" y="637.25" font-size="8.1" text-anchor="end" class="sf" fill="#1a1a1a">3.0</text>
<line x1="29.7" y1="621.99" x2="33.9" y2="621.99" stroke="#3c3c3c" stroke-width="1"/>
<text x="27.3" y="624.66" font-size="8.1" text-anchor="end" class="sf" fill="#1a1a1a">3.5</text>
<line x1="29.7" y1="609.4" x2="33.9" y2="609.4" stroke="#3c3c3c" stroke-width="1"/>
<text x="27.3" y="612.07" font-size="8.1" text-anchor="end" class="sf" fill="#1a1a1a">4.0</text>
<line x1="31.4" y1="703.81" x2="33.9" y2="703.81" stroke="#3c3c3c" stroke-width="0.9"/>
<line x1="31.4" y1="691.22" x2="33.9" y2="691.22" stroke="#3c3c3c" stroke-width="0.9"/>
<line x1="31.4" y1="678.63" x2="33.9" y2="678.63" stroke="#3c3c3c" stroke-width="0.9"/>
<line x1="31.4" y1="666.04" x2="33.9" y2="666.04" stroke="#3c3c3c" stroke-width="0.9"/>
<line x1="31.4" y1="653.46" x2="33.9" y2="653.46" stroke="#3c3c3c" stroke-width="0.9"/>
<line x1="31.4" y1="640.87" x2="33.9" y2="640.87" stroke="#3c3c3c" stroke-width="0.9"/>
<line x1="31.4" y1="628.28" x2="33.9" y2="628.28" stroke="#3c3c3c" stroke-width="0.9"/>
<line x1="31.4" y1="615.69" x2="33.9" y2="615.69" stroke="#3c3c3c" stroke-width="0.9"/>
<line x1="31.4" y1="603.11" x2="33.9" y2="603.11" stroke="#3c3c3c" stroke-width="0.9"/>
<line x1="46.2" y1="710.1" x2="46.2" y2="713.7" stroke="#3c3c3c" stroke-width="1"/>
<text x="46.2" y="723.8" font-size="8" text-anchor="middle" class="sf" fill="#1a1a1a">NFD</text>
<line x1="71.1" y1="710.1" x2="71.1" y2="713.7" stroke="#3c3c3c" stroke-width="1"/>
<text x="71.1" y="723.8" font-size="8" text-anchor="middle" class="sf" fill="#1a1a1a">HFD</text>
<line x1="44.8" y1="609" x2="69.2" y2="609" stroke="#555" stroke-width="1.4"/>
<text x="57" y="610.78" font-size="10.5" text-anchor="middle" class="sf" fill="#1a1a1a" stroke="#1a1a1a" stroke-width="0.25">**</text>
<text x="13.5" y="656.65" font-size="8.95" text-anchor="middle" class="sf" fill="#1a1a1a" transform="rotate(-90 13.5 656.65)">Klebsiella abundance</text>
<rect x="132.1" y="652.4" width="15.8" height="57.7" fill="#3db54a" stroke="#484848" stroke-width="0.9"/>
<rect x="157" y="703.5" width="15.8" height="6.6" fill="#ff7f0e" stroke="#484848" stroke-width="0.9"/>
<line x1="140.4" y1="651.5" x2="140.4" y2="652.4" stroke="#555" stroke-width="1"/>
<line x1="137.4" y1="651.5" x2="143.4" y2="651.5" stroke="#555" stroke-width="1"/>
<line x1="165.2" y1="689.4" x2="165.2" y2="703.5" stroke="#555" stroke-width="1"/>
<line x1="161.7" y1="689.4" x2="168.7" y2="689.4" stroke="#555" stroke-width="1"/>
<path d="M138.8 609.5L141.7 612.4L138.8 615.3L135.9 612.4Z" fill="#3a3a3a"/>
<path d="M139.7 649.3L142.6 652.2L139.7 655.1L136.8 652.2Z" fill="#3a3a3a"/>
<path d="M138.4 651.3L141.3 654.2L138.4 657.1L135.5 654.2Z" fill="#3a3a3a"/>
<path d="M142.4 651.3L145.3 654.2L142.4 657.1L139.5 654.2Z" fill="#3a3a3a"/>
<path d="M137.8 687.7L140.7 690.6L137.8 693.5L134.9 690.6Z" fill="#3a3a3a"/>
<path d="M165.5 686.5L168.4 689.4L165.5 692.3L162.6 689.4Z" fill="#3a3a3a"/>
<path d="M165.3 698.2L168.2 701.1L165.3 704L162.4 701.1Z" fill="#3a3a3a"/>
<path d="M163.7 705.8L166.6 708.7L163.7 711.6L160.8 708.7Z" fill="#3a3a3a"/>
<path d="M166.2 705.8L169.1 708.7L166.2 711.6L163.3 708.7Z" fill="#3a3a3a"/>
<line x1="127.6" y1="602.7" x2="127.6" y2="710.6" stroke="#3c3c3c" stroke-width="1"/>
<line x1="127.1" y1="710.1" x2="177.2" y2="710.1" stroke="#3c3c3c" stroke-width="1"/>
<line x1="123.4" y1="710.1" x2="127.6" y2="710.1" stroke="#3c3c3c" stroke-width="1"/>
<text x="121" y="712.77" font-size="8.1" text-anchor="end" class="sf" fill="#1a1a1a">0.0</text>
<line x1="123.4" y1="692.32" x2="127.6" y2="692.32" stroke="#3c3c3c" stroke-width="1"/>
<text x="121" y="694.99" font-size="8.1" text-anchor="end" class="sf" fill="#1a1a1a">0.5</text>
<line x1="123.4" y1="674.53" x2="127.6" y2="674.53" stroke="#3c3c3c" stroke-width="1"/>
<text x="121" y="677.21" font-size="8.1" text-anchor="end" class="sf" fill="#1a1a1a">1.0</text>
<line x1="123.4" y1="656.75" x2="127.6" y2="656.75" stroke="#3c3c3c" stroke-width="1"/>
<text x="121" y="659.42" font-size="8.1" text-anchor="end" class="sf" fill="#1a1a1a">1.5</text>
<line x1="123.4" y1="638.97" x2="127.6" y2="638.97" stroke="#3c3c3c" stroke-width="1"/>
<text x="121" y="641.64" font-size="8.1" text-anchor="end" class="sf" fill="#1a1a1a">2.0</text>
<line x1="123.4" y1="621.18" x2="127.6" y2="621.18" stroke="#3c3c3c" stroke-width="1"/>
<text x="121" y="623.86" font-size="8.1" text-anchor="end" class="sf" fill="#1a1a1a">2.5</text>
<line x1="123.4" y1="603.4" x2="127.6" y2="603.4" stroke="#3c3c3c" stroke-width="1"/>
<text x="121" y="606.07" font-size="8.1" text-anchor="end" class="sf" fill="#1a1a1a">3.0</text>
<line x1="125.1" y1="701.21" x2="127.6" y2="701.21" stroke="#3c3c3c" stroke-width="0.9"/>
<line x1="125.1" y1="683.42" x2="127.6" y2="683.42" stroke="#3c3c3c" stroke-width="0.9"/>
<line x1="125.1" y1="665.64" x2="127.6" y2="665.64" stroke="#3c3c3c" stroke-width="0.9"/>
<line x1="125.1" y1="647.86" x2="127.6" y2="647.86" stroke="#3c3c3c" stroke-width="0.9"/>
<line x1="125.1" y1="630.08" x2="127.6" y2="630.08" stroke="#3c3c3c" stroke-width="0.9"/>
<line x1="125.1" y1="612.29" x2="127.6" y2="612.29" stroke="#3c3c3c" stroke-width="0.9"/>
<line x1="139.9" y1="710.1" x2="139.9" y2="713.7" stroke="#3c3c3c" stroke-width="1"/>
<text x="139.9" y="723.8" font-size="8" text-anchor="middle" class="sf" fill="#1a1a1a">NFD</text>
<line x1="164.8" y1="710.1" x2="164.8" y2="713.7" stroke="#3c3c3c" stroke-width="1"/>
<text x="164.8" y="723.8" font-size="8" text-anchor="middle" class="sf" fill="#1a1a1a">NFD</text>
<line x1="138.8" y1="607.4" x2="163.1" y2="607.4" stroke="#555" stroke-width="1.4"/>
<text x="150.95" y="609.18" font-size="10.5" text-anchor="middle" class="sf" fill="#1a1a1a" stroke="#1a1a1a" stroke-width="0.25">*</text>
<text x="106.3" y="656.65" font-size="8.95" text-anchor="middle" class="sf" fill="#1a1a1a" transform="rotate(-90 106.3 656.65)">Megasphaera abundance</text>
<rect x="226.9" y="672.6" width="15.8" height="37.5" fill="#3db54a" stroke="#484848" stroke-width="0.9"/>
<rect x="251.8" y="705.6" width="15.8" height="4.5" fill="#ff7f0e" stroke="#484848" stroke-width="0.9"/>
<line x1="234.8" y1="618" x2="234.8" y2="672.6" stroke="#555" stroke-width="1"/>
<line x1="231" y1="618" x2="238.6" y2="618" stroke="#555" stroke-width="1"/>
<line x1="259.7" y1="700.6" x2="259.7" y2="705.6" stroke="#555" stroke-width="1"/>
<line x1="256.2" y1="700.6" x2="263.2" y2="700.6" stroke="#555" stroke-width="1"/>
<path d="M233.2 615.1L236.1 618L233.2 620.9L230.3 618Z" fill="#3a3a3a"/>
<path d="M236.8 658.5L239.7 661.4L236.8 664.3L233.9 661.4Z" fill="#3a3a3a"/>
<path d="M232.3 681.6L235.2 684.5L232.3 687.4L229.4 684.5Z" fill="#3a3a3a"/>
<path d="M233.4 692.8L236.3 695.7L233.4 698.6L230.5 695.7Z" fill="#3a3a3a"/>
<path d="M234.7 700.7L237.6 703.6L234.7 706.5L231.8 703.6Z" fill="#3a3a3a"/>
<path d="M260.8 697.7L263.7 700.6L260.8 703.5L257.9 700.6Z" fill="#3a3a3a"/>
<path d="M259.9 700.9L262.8 703.8L259.9 706.7L257 703.8Z" fill="#3a3a3a"/>
<path d="M259 703.4L261.9 706.3L259 709.2L256.1 706.3Z" fill="#3a3a3a"/>
<path d="M257.8 705.8L260.7 708.7L257.8 711.6L254.9 708.7Z" fill="#3a3a3a"/>
<line x1="222.4" y1="602.7" x2="222.4" y2="710.6" stroke="#3c3c3c" stroke-width="1"/>
<line x1="221.9" y1="710.1" x2="272" y2="710.1" stroke="#3c3c3c" stroke-width="1"/>
<line x1="218.2" y1="710.1" x2="222.4" y2="710.1" stroke="#3c3c3c" stroke-width="1"/>
<text x="215.8" y="712.77" font-size="8.1" text-anchor="end" class="sf" fill="#1a1a1a">0.00</text>
<line x1="218.2" y1="692.32" x2="222.4" y2="692.32" stroke="#3c3c3c" stroke-width="1"/>
<text x="215.8" y="694.99" font-size="8.1" text-anchor="end" class="sf" fill="#1a1a1a">0.05</text>
<line x1="218.2" y1="674.53" x2="222.4" y2="674.53" stroke="#3c3c3c" stroke-width="1"/>
<text x="215.8" y="677.21" font-size="8.1" text-anchor="end" class="sf" fill="#1a1a1a">0.10</text>
<line x1="218.2" y1="656.75" x2="222.4" y2="656.75" stroke="#3c3c3c" stroke-width="1"/>
<text x="215.8" y="659.42" font-size="8.1" text-anchor="end" class="sf" fill="#1a1a1a">0.15</text>
<line x1="218.2" y1="638.97" x2="222.4" y2="638.97" stroke="#3c3c3c" stroke-width="1"/>
<text x="215.8" y="641.64" font-size="8.1" text-anchor="end" class="sf" fill="#1a1a1a">0.20</text>
<line x1="218.2" y1="621.18" x2="222.4" y2="621.18" stroke="#3c3c3c" stroke-width="1"/>
<text x="215.8" y="623.86" font-size="8.1" text-anchor="end" class="sf" fill="#1a1a1a">0.25</text>
<line x1="218.2" y1="603.4" x2="222.4" y2="603.4" stroke="#3c3c3c" stroke-width="1"/>
<text x="215.8" y="606.07" font-size="8.1" text-anchor="end" class="sf" fill="#1a1a1a">0.30</text>
<line x1="219.9" y1="701.21" x2="222.4" y2="701.21" stroke="#3c3c3c" stroke-width="0.9"/>
<line x1="219.9" y1="683.42" x2="222.4" y2="683.42" stroke="#3c3c3c" stroke-width="0.9"/>
<line x1="219.9" y1="665.64" x2="222.4" y2="665.64" stroke="#3c3c3c" stroke-width="0.9"/>
<line x1="219.9" y1="647.86" x2="222.4" y2="647.86" stroke="#3c3c3c" stroke-width="0.9"/>
<line x1="219.9" y1="630.08" x2="222.4" y2="630.08" stroke="#3c3c3c" stroke-width="0.9"/>
<line x1="219.9" y1="612.29" x2="222.4" y2="612.29" stroke="#3c3c3c" stroke-width="0.9"/>
<line x1="234.7" y1="710.1" x2="234.7" y2="713.7" stroke="#3c3c3c" stroke-width="1"/>
<text x="234.7" y="723.8" font-size="8" text-anchor="middle" class="sf" fill="#1a1a1a">NFD</text>
<line x1="259.6" y1="710.1" x2="259.6" y2="713.7" stroke="#3c3c3c" stroke-width="1"/>
<text x="259.6" y="723.8" font-size="8" text-anchor="middle" class="sf" fill="#1a1a1a">HFD</text>
<line x1="235" y1="608.1" x2="259.6" y2="608.1" stroke="#555" stroke-width="1.4"/>
<text x="247.3" y="609.88" font-size="10.5" text-anchor="middle" class="sf" fill="#1a1a1a" stroke="#1a1a1a" stroke-width="0.25">*</text>
<text x="197.6" y="656.65" font-size="8.95" text-anchor="middle" class="sf" fill="#1a1a1a" transform="rotate(-90 197.6 656.65)">Merdibacter abundance</text>
<rect x="321.5" y="703.5" width="15.8" height="6.6" fill="#3db54a" stroke="#484848" stroke-width="0.9"/>
<rect x="346.4" y="636.1" width="15.8" height="74" fill="#ff7f0e" stroke="#484848" stroke-width="0.9"/>
<line x1="329.4" y1="702.5" x2="329.4" y2="703.5" stroke="#555" stroke-width="1"/>
<line x1="326.4" y1="702.5" x2="332.4" y2="702.5" stroke="#555" stroke-width="1"/>
<line x1="354.4" y1="612.3" x2="354.4" y2="636.1" stroke="#555" stroke-width="1"/>
<line x1="350.9" y1="612.3" x2="357.9" y2="612.3" stroke="#555" stroke-width="1"/>
<path d="M327.5 695.9L330.4 698.8L327.5 701.7L324.6 698.8Z" fill="#3a3a3a"/>
<path d="M326.6 701.3L329.5 704.2L326.6 707.1L323.7 704.2Z" fill="#3a3a3a"/>
<path d="M328.8 702L331.7 704.9L328.8 707.8L325.9 704.9Z" fill="#3a3a3a"/>
<path d="M331.8 702.2L334.7 705.1L331.8 708L328.9 705.1Z" fill="#3a3a3a"/>
<path d="M354.6 609.4L357.5 612.3L354.6 615.2L351.7 612.3Z" fill="#3a3a3a"/>
<path d="M352.2 624.7L355.1 627.6L352.2 630.5L349.3 627.6Z" fill="#3a3a3a"/>
<path d="M354 624.7L356.9 627.6L354 630.5L351.1 627.6Z" fill="#3a3a3a"/>
<path d="M354.9 642.1L357.8 645L354.9 647.9L352 645Z" fill="#3a3a3a"/>
<path d="M354.4 665.7L357.3 668.6L354.4 671.5L351.5 668.6Z" fill="#3a3a3a"/>
<line x1="317" y1="602.7" x2="317" y2="710.6" stroke="#3c3c3c" stroke-width="1"/>
<line x1="316.5" y1="710.1" x2="366.6" y2="710.1" stroke="#3c3c3c" stroke-width="1"/>
<line x1="312.8" y1="710.1" x2="317" y2="710.1" stroke="#3c3c3c" stroke-width="1"/>
<text x="310.4" y="712.77" font-size="8.1" text-anchor="end" class="sf" fill="#1a1a1a">0.00</text>
<line x1="312.8" y1="697.49" x2="317" y2="697.49" stroke="#3c3c3c" stroke-width="1"/>
<text x="310.4" y="700.16" font-size="8.1" text-anchor="end" class="sf" fill="#1a1a1a">0.05</text>
<line x1="312.8" y1="684.88" x2="317" y2="684.88" stroke="#3c3c3c" stroke-width="1"/>
<text x="310.4" y="687.55" font-size="8.1" text-anchor="end" class="sf" fill="#1a1a1a">0.10</text>
<line x1="312.8" y1="672.26" x2="317" y2="672.26" stroke="#3c3c3c" stroke-width="1"/>
<text x="310.4" y="674.94" font-size="8.1" text-anchor="end" class="sf" fill="#1a1a1a">0.15</text>
<line x1="312.8" y1="659.65" x2="317" y2="659.65" stroke="#3c3c3c" stroke-width="1"/>
<text x="310.4" y="662.32" font-size="8.1" text-anchor="end" class="sf" fill="#1a1a1a">0.20</text>
<line x1="312.8" y1="647.04" x2="317" y2="647.04" stroke="#3c3c3c" stroke-width="1"/>
<text x="310.4" y="649.71" font-size="8.1" text-anchor="end" class="sf" fill="#1a1a1a">0.25</text>
<line x1="312.8" y1="634.43" x2="317" y2="634.43" stroke="#3c3c3c" stroke-width="1"/>
<text x="310.4" y="637.1" font-size="8.1" text-anchor="end" class="sf" fill="#1a1a1a">0.30</text>
<line x1="312.8" y1="621.81" x2="317" y2="621.81" stroke="#3c3c3c" stroke-width="1"/>
<text x="310.4" y="624.49" font-size="8.1" text-anchor="end" class="sf" fill="#1a1a1a">0.35</text>
<line x1="312.8" y1="609.2" x2="317" y2="609.2" stroke="#3c3c3c" stroke-width="1"/>
<text x="310.4" y="611.87" font-size="8.1" text-anchor="end" class="sf" fill="#1a1a1a">0.40</text>
<line x1="314.5" y1="703.79" x2="317" y2="703.79" stroke="#3c3c3c" stroke-width="0.9"/>
<line x1="314.5" y1="691.18" x2="317" y2="691.18" stroke="#3c3c3c" stroke-width="0.9"/>
<line x1="314.5" y1="678.57" x2="317" y2="678.57" stroke="#3c3c3c" stroke-width="0.9"/>
<line x1="314.5" y1="665.96" x2="317" y2="665.96" stroke="#3c3c3c" stroke-width="0.9"/>
<line x1="314.5" y1="653.34" x2="317" y2="653.34" stroke="#3c3c3c" stroke-width="0.9"/>
<line x1="314.5" y1="640.73" x2="317" y2="640.73" stroke="#3c3c3c" stroke-width="0.9"/>
<line x1="314.5" y1="628.12" x2="317" y2="628.12" stroke="#3c3c3c" stroke-width="0.9"/>
<line x1="314.5" y1="615.51" x2="317" y2="615.51" stroke="#3c3c3c" stroke-width="0.9"/>
<line x1="329.3" y1="710.1" x2="329.3" y2="713.7" stroke="#3c3c3c" stroke-width="1"/>
<text x="329.3" y="723.8" font-size="8" text-anchor="middle" class="sf" fill="#1a1a1a">NFD</text>
<line x1="354.2" y1="710.1" x2="354.2" y2="713.7" stroke="#3c3c3c" stroke-width="1"/>
<text x="354.2" y="723.8" font-size="8" text-anchor="middle" class="sf" fill="#1a1a1a">HFD</text>
<line x1="330.6" y1="608.1" x2="355" y2="608.1" stroke="#555" stroke-width="1.4"/>
<text x="342.8" y="609.88" font-size="10.5" text-anchor="middle" class="sf" fill="#1a1a1a" stroke="#1a1a1a" stroke-width="0.25">**</text>
<text x="291.7" y="656.65" font-size="8.95" text-anchor="middle" class="sf" fill="#1a1a1a" transform="rotate(-90 291.7 656.65)">Proteus abundance</text>
<rect x="415.7" y="707.2" width="15.8" height="2.9" fill="#3db54a" stroke="#484848" stroke-width="0.9"/>
<rect x="440.6" y="674" width="15.8" height="36.1" fill="#ff7f0e" stroke="#484848" stroke-width="0.9"/>
<line x1="423.5" y1="703.6" x2="423.5" y2="707.2" stroke="#555" stroke-width="1"/>
<line x1="420" y1="703.6" x2="427" y2="703.6" stroke="#555" stroke-width="1"/>
<line x1="448.5" y1="673.5" x2="448.5" y2="674" stroke="#555" stroke-width="1"/>
<line x1="445.5" y1="673.5" x2="451.5" y2="673.5" stroke="#555" stroke-width="1"/>
<path d="M422.4 700.7L425.3 703.6L422.4 706.5L419.5 703.6Z" fill="#3a3a3a"/>
<path d="M423.3 705.8L426.2 708.7L423.3 711.6L420.4 708.7Z" fill="#3a3a3a"/>
<path d="M446.7 611L449.6 613.9L446.7 616.8L443.8 613.9Z" fill="#3a3a3a"/>
<path d="M448.9 671.8L451.8 674.7L448.9 677.6L446 674.7Z" fill="#3a3a3a"/>
<path d="M448.5 676.4L451.4 679.3L448.5 682.2L445.6 679.3Z" fill="#3a3a3a"/>
<path d="M448 693.9L450.9 696.8L448 699.7L445.1 696.8Z" fill="#3a3a3a"/>
<path d="M449.5 702.4L452.4 705.3L449.5 708.2L446.6 705.3Z" fill="#3a3a3a"/>
<line x1="411.2" y1="602.7" x2="411.2" y2="710.6" stroke="#3c3c3c" stroke-width="1"/>
<line x1="410.7" y1="710.1" x2="460.8" y2="710.1" stroke="#3c3c3c" stroke-width="1"/>
<line x1="407" y1="710.1" x2="411.2" y2="710.1" stroke="#3c3c3c" stroke-width="1"/>
<text x="404.6" y="712.77" font-size="8.1" text-anchor="end" class="sf" fill="#1a1a1a">0.00</text>
<line x1="407" y1="694.86" x2="411.2" y2="694.86" stroke="#3c3c3c" stroke-width="1"/>
<text x="404.6" y="697.53" font-size="8.1" text-anchor="end" class="sf" fill="#1a1a1a">0.02</text>
<line x1="407" y1="679.61" x2="411.2" y2="679.61" stroke="#3c3c3c" stroke-width="1"/>
<text x="404.6" y="682.29" font-size="8.1" text-anchor="end" class="sf" fill="#1a1a1a">0.04</text>
<line x1="407" y1="664.37" x2="411.2" y2="664.37" stroke="#3c3c3c" stroke-width="1"/>
<text x="404.6" y="667.04" font-size="8.1" text-anchor="end" class="sf" fill="#1a1a1a">0.06</text>
<line x1="407" y1="649.13" x2="411.2" y2="649.13" stroke="#3c3c3c" stroke-width="1"/>
<text x="404.6" y="651.8" font-size="8.1" text-anchor="end" class="sf" fill="#1a1a1a">0.08</text>
<line x1="407" y1="633.89" x2="411.2" y2="633.89" stroke="#3c3c3c" stroke-width="1"/>
<text x="404.6" y="636.56" font-size="8.1" text-anchor="end" class="sf" fill="#1a1a1a">0.10</text>
<line x1="407" y1="618.64" x2="411.2" y2="618.64" stroke="#3c3c3c" stroke-width="1"/>
<text x="404.6" y="621.32" font-size="8.1" text-anchor="end" class="sf" fill="#1a1a1a">0.12</text>
<line x1="407" y1="603.4" x2="411.2" y2="603.4" stroke="#3c3c3c" stroke-width="1"/>
<text x="404.6" y="606.07" font-size="8.1" text-anchor="end" class="sf" fill="#1a1a1a">0.14</text>
<line x1="408.7" y1="702.48" x2="411.2" y2="702.48" stroke="#3c3c3c" stroke-width="0.9"/>
<line x1="408.7" y1="687.24" x2="411.2" y2="687.24" stroke="#3c3c3c" stroke-width="0.9"/>
<line x1="408.7" y1="671.99" x2="411.2" y2="671.99" stroke="#3c3c3c" stroke-width="0.9"/>
<line x1="408.7" y1="656.75" x2="411.2" y2="656.75" stroke="#3c3c3c" stroke-width="0.9"/>
<line x1="408.7" y1="641.51" x2="411.2" y2="641.51" stroke="#3c3c3c" stroke-width="0.9"/>
<line x1="408.7" y1="626.26" x2="411.2" y2="626.26" stroke="#3c3c3c" stroke-width="0.9"/>
<line x1="408.7" y1="611.02" x2="411.2" y2="611.02" stroke="#3c3c3c" stroke-width="0.9"/>
<line x1="423.5" y1="710.1" x2="423.5" y2="713.7" stroke="#3c3c3c" stroke-width="1"/>
<text x="423.5" y="723.8" font-size="8" text-anchor="middle" class="sf" fill="#1a1a1a">NFD</text>
<line x1="448.4" y1="710.1" x2="448.4" y2="713.7" stroke="#3c3c3c" stroke-width="1"/>
<text x="448.4" y="723.8" font-size="8" text-anchor="middle" class="sf" fill="#1a1a1a">HFD</text>
<line x1="423.3" y1="607.8" x2="447.6" y2="607.8" stroke="#555" stroke-width="1.4"/>
<text x="435.45" y="609.58" font-size="10.5" text-anchor="middle" class="sf" fill="#1a1a1a" stroke="#1a1a1a" stroke-width="0.25">*</text>
<text x="385.8" y="656.65" font-size="8.95" text-anchor="middle" class="sf" fill="#1a1a1a" transform="rotate(-90 385.8 656.65)">Serratia abundance</text>
<rect x="451.8" y="455.2" width="15" height="6.5" fill="#3db54a" stroke="#3c3c3c" stroke-width="1"/>
<rect x="451.8" y="463.5" width="15" height="6.9" fill="#ff7f0e" stroke="#3c3c3c" stroke-width="1"/>
<text x="468.7" y="460.7" font-size="6.6" class="sf" fill="#1a1a1a">NFD</text>
<text x="468.7" y="468.9" font-size="6.6" class="sf" fill="#1a1a1a">HFD</text>
<rect x="503.8" y="630.7" width="11.75" height="11.74" fill="#2a2aff" stroke="#9a8aa8" stroke-width="0.5"/>
<rect x="515.55" y="630.7" width="11.85" height="11.74" fill="#ff1a1a" stroke="#9a8aa8" stroke-width="0.5"/>
<rect x="503.8" y="642.44" width="11.75" height="11.74" fill="#2a2aff" stroke="#9a8aa8" stroke-width="0.5"/>
<rect x="515.55" y="642.44" width="11.85" height="11.74" fill="#ff1a1a" stroke="#9a8aa8" stroke-width="0.5"/>
<rect x="503.8" y="654.18" width="11.75" height="11.74" fill="#2a2aff" stroke="#9a8aa8" stroke-width="0.5"/>
<rect x="515.55" y="654.18" width="11.85" height="11.74" fill="#ff1a1a" stroke="#9a8aa8" stroke-width="0.5"/>
<rect x="503.8" y="665.92" width="11.75" height="11.74" fill="#2a2aff" stroke="#9a8aa8" stroke-width="0.5"/>
<rect x="515.55" y="665.92" width="11.85" height="11.74" fill="#ff1a1a" stroke="#9a8aa8" stroke-width="0.5"/>
<rect x="503.8" y="677.66" width="11.75" height="11.74" fill="#2a2aff" stroke="#9a8aa8" stroke-width="0.5"/>
<rect x="515.55" y="677.66" width="11.85" height="11.74" fill="#ff1a1a" stroke="#9a8aa8" stroke-width="0.5"/>
<rect x="503.8" y="689.4" width="11.75" height="11.74" fill="#2a2aff" stroke="#9a8aa8" stroke-width="0.5"/>
<rect x="515.55" y="689.4" width="11.85" height="11.74" fill="#ff1a1a" stroke="#9a8aa8" stroke-width="0.5"/>
<rect x="503.8" y="701.14" width="11.75" height="11.74" fill="#2a2aff" stroke="#9a8aa8" stroke-width="0.5"/>
<rect x="515.55" y="701.14" width="11.85" height="11.74" fill="#ff1a1a" stroke="#9a8aa8" stroke-width="0.5"/>
<rect x="503.8" y="712.88" width="11.75" height="11.74" fill="#2a2aff" stroke="#9a8aa8" stroke-width="0.5"/>
<rect x="515.55" y="712.88" width="11.85" height="11.74" fill="#ff1a1a" stroke="#9a8aa8" stroke-width="0.5"/>
<rect x="503.8" y="724.62" width="11.75" height="11.74" fill="#2a2aff" stroke="#9a8aa8" stroke-width="0.5"/>
<rect x="515.55" y="724.62" width="11.85" height="11.74" fill="#ff1a1a" stroke="#9a8aa8" stroke-width="0.5"/>
<rect x="503.8" y="736.36" width="11.75" height="11.74" fill="#2a2aff" stroke="#9a8aa8" stroke-width="0.5"/>
<rect x="515.55" y="736.36" width="11.85" height="11.74" fill="#ff1a1a" stroke="#9a8aa8" stroke-width="0.5"/>
<rect x="503.8" y="748.1" width="11.75" height="11.74" fill="#ff1a1a" stroke="#9a8aa8" stroke-width="0.5"/>
<rect x="515.55" y="748.1" width="11.85" height="11.74" fill="#2a2aff" stroke="#9a8aa8" stroke-width="0.5"/>
<rect x="503.8" y="759.84" width="11.75" height="11.74" fill="#ff1a1a" stroke="#9a8aa8" stroke-width="0.5"/>
<rect x="515.55" y="759.84" width="11.85" height="11.74" fill="#2a2aff" stroke="#9a8aa8" stroke-width="0.5"/>
<rect x="503.8" y="771.58" width="11.75" height="11.74" fill="#ff1a1a" stroke="#9a8aa8" stroke-width="0.5"/>
<rect x="515.55" y="771.58" width="11.85" height="11.74" fill="#2a2aff" stroke="#9a8aa8" stroke-width="0.5"/>
<rect x="503.8" y="783.32" width="11.75" height="11.74" fill="#ff1a1a" stroke="#9a8aa8" stroke-width="0.5"/>
<rect x="515.55" y="783.32" width="11.85" height="11.74" fill="#2a2aff" stroke="#9a8aa8" stroke-width="0.5"/>
<rect x="503.8" y="795.06" width="11.75" height="11.74" fill="#ff1a1a" stroke="#9a8aa8" stroke-width="0.5"/>
<rect x="515.55" y="795.06" width="11.85" height="11.74" fill="#2a2aff" stroke="#9a8aa8" stroke-width="0.5"/>
<rect x="503.8" y="806.8" width="11.75" height="11.74" fill="#ff1a1a" stroke="#9a8aa8" stroke-width="0.5"/>
<rect x="515.55" y="806.8" width="11.85" height="11.74" fill="#2a2aff" stroke="#9a8aa8" stroke-width="0.5"/>
<rect x="503.8" y="818.54" width="11.75" height="11.74" fill="#ff1a1a" stroke="#9a8aa8" stroke-width="0.5"/>
<rect x="515.55" y="818.54" width="11.85" height="11.74" fill="#2a2aff" stroke="#9a8aa8" stroke-width="0.5"/>
<rect x="503.8" y="830.28" width="11.75" height="11.74" fill="#ff1a1a" stroke="#9a8aa8" stroke-width="0.5"/>
<rect x="515.55" y="830.28" width="11.85" height="11.74" fill="#2a2aff" stroke="#9a8aa8" stroke-width="0.5"/>
<rect x="503.8" y="842.02" width="11.75" height="11.74" fill="#ff1a1a" stroke="#9a8aa8" stroke-width="0.5"/>
<rect x="515.55" y="842.02" width="11.85" height="11.74" fill="#2a2aff" stroke="#9a8aa8" stroke-width="0.5"/>
<rect x="503.8" y="853.76" width="11.75" height="11.74" fill="#ff1a1a" stroke="#9a8aa8" stroke-width="0.5"/>
<rect x="515.55" y="853.76" width="11.85" height="11.74" fill="#2a2aff" stroke="#9a8aa8" stroke-width="0.5"/>
<line x1="527.4" y1="636.57" x2="529.4" y2="636.57" stroke="#bbb" stroke-width="0.6"/>
<text x="531.9" y="637.07" font-size="7.55" class="ss" fill="#111">Amino Acid Metabolism</text>
<line x1="527.4" y1="648.31" x2="529.4" y2="648.31" stroke="#bbb" stroke-width="0.6"/>
<text x="531.9" y="648.81" font-size="7.55" class="ss" fill="#111">Metabolism of Cofactors and Vitamins</text>
<line x1="527.4" y1="660.05" x2="529.4" y2="660.05" stroke="#bbb" stroke-width="0.6"/>
<text x="531.9" y="660.55" font-size="7.55" class="ss" fill="#111">Nucleotide Metabolism</text>
<line x1="527.4" y1="671.79" x2="529.4" y2="671.79" stroke="#bbb" stroke-width="0.6"/>
<text x="531.9" y="672.29" font-size="7.55" class="ss" fill="#111">Translation</text>
<line x1="527.4" y1="683.53" x2="529.4" y2="683.53" stroke="#bbb" stroke-width="0.6"/>
<text x="531.9" y="684.03" font-size="7.55" class="ss" fill="#111">Cell Motility</text>
<line x1="527.4" y1="695.27" x2="529.4" y2="695.27" stroke="#bbb" stroke-width="0.6"/>
<text x="531.9" y="695.77" font-size="7.55" class="ss" fill="#111">Endocrine System</text>
<line x1="527.4" y1="707.01" x2="529.4" y2="707.01" stroke="#bbb" stroke-width="0.6"/>
<text x="531.9" y="707.51" font-size="7.55" class="ss" fill="#111">Replication and Repair</text>
<line x1="527.4" y1="718.75" x2="529.4" y2="718.75" stroke="#bbb" stroke-width="0.6"/>
<text x="531.9" y="719.25" font-size="7.55" class="ss" fill="#111">Folding, Sorting and Degradation</text>
<line x1="527.4" y1="730.49" x2="529.4" y2="730.49" stroke="#bbb" stroke-width="0.6"/>
<text x="531.9" y="730.99" font-size="7.55" class="ss" fill="#111">Cell Growth and Death</text>
<line x1="527.4" y1="742.23" x2="529.4" y2="742.23" stroke="#bbb" stroke-width="0.6"/>
<text x="531.9" y="742.73" font-size="7.55" class="ss" fill="#111">Energy Metabolism</text>
<line x1="527.4" y1="753.97" x2="529.4" y2="753.97" stroke="#bbb" stroke-width="0.6"/>
<text x="531.9" y="754.47" font-size="7.55" class="ss" fill="#111">Membrane Transport</text>
<line x1="527.4" y1="765.71" x2="529.4" y2="765.71" stroke="#bbb" stroke-width="0.6"/>
<text x="531.9" y="766.21" font-size="7.55" class="ss" fill="#111">Signal Transduction</text>
<line x1="527.4" y1="777.45" x2="529.4" y2="777.45" stroke="#bbb" stroke-width="0.6"/>
<text x="531.9" y="777.95" font-size="7.55" class="ss" fill="#111">Carbohydrate Metabolism</text>
<line x1="527.4" y1="789.19" x2="529.4" y2="789.19" stroke="#bbb" stroke-width="0.6"/>
<text x="531.9" y="789.69" font-size="7.55" class="ss" fill="#111">Lipid Metabolism</text>
<line x1="527.4" y1="800.93" x2="529.4" y2="800.93" stroke="#bbb" stroke-width="0.6"/>
<text x="531.9" y="801.43" font-size="7.55" class="ss" fill="#111">Metabolism of Other Amino Acids</text>
<line x1="527.4" y1="812.67" x2="529.4" y2="812.67" stroke="#bbb" stroke-width="0.6"/>
<text x="531.9" y="813.17" font-size="7.55" class="ss" fill="#111">Infectious Diseases</text>
<line x1="527.4" y1="824.41" x2="529.4" y2="824.41" stroke="#bbb" stroke-width="0.6"/>
<text x="531.9" y="824.91" font-size="7.55" class="ss" fill="#111">Biosynthesis of Other Secondary Metabolites</text>
<line x1="527.4" y1="836.15" x2="529.4" y2="836.15" stroke="#bbb" stroke-width="0.6"/>
<text x="531.9" y="836.65" font-size="7.55" class="ss" fill="#111">Xenobiotics Biodegradation and Metabolism</text>
<line x1="527.4" y1="847.89" x2="529.4" y2="847.89" stroke="#bbb" stroke-width="0.6"/>
<text x="531.9" y="848.39" font-size="7.55" class="ss" fill="#111">Metabolism of Terpenoids and Polyketides</text>
<line x1="527.4" y1="859.63" x2="529.4" y2="859.63" stroke="#bbb" stroke-width="0.6"/>
<text x="531.9" y="860.13" font-size="7.55" class="ss" fill="#111">Glycan Biosynthesis and Metabolism</text>
<text x="505.9" y="873.3" font-size="7.9" class="ss" fill="#151515" transform="rotate(45 505.9 873.3)">HFD</text>
<text x="517.7" y="873.3" font-size="7.9" class="ss" fill="#151515" transform="rotate(45 517.7 873.3)">NFD</text>
<line x1="497.4" y1="636.57" x2="503.8" y2="636.57" stroke="#a4a4a4" stroke-width="0.6"/>
<line x1="497.4" y1="648.31" x2="503.8" y2="648.31" stroke="#a4a4a4" stroke-width="0.6"/>
<line x1="497.4" y1="636.57" x2="497.4" y2="648.31" stroke="#a4a4a4" stroke-width="0.6"/>
<line x1="496.5" y1="642.44" x2="497.4" y2="642.44" stroke="#a4a4a4" stroke-width="0.6"/>
<line x1="496.5" y1="660.05" x2="503.8" y2="660.05" stroke="#a4a4a4" stroke-width="0.6"/>
<line x1="496.5" y1="642.44" x2="496.5" y2="660.05" stroke="#a4a4a4" stroke-width="0.6"/>
<line x1="495.8" y1="651.25" x2="496.5" y2="651.25" stroke="#a4a4a4" stroke-width="0.6"/>
<line x1="495.8" y1="671.79" x2="503.8" y2="671.79" stroke="#a4a4a4" stroke-width="0.6"/>
<line x1="495.8" y1="651.25" x2="495.8" y2="671.79" stroke="#a4a4a4" stroke-width="0.6"/>
<line x1="495.2" y1="661.52" x2="495.8" y2="661.52" stroke="#a4a4a4" stroke-width="0.6"/>
<line x1="495.2" y1="683.53" x2="503.8" y2="683.53" stroke="#a4a4a4" stroke-width="0.6"/>
<line x1="495.2" y1="661.52" x2="495.2" y2="683.53" stroke="#a4a4a4" stroke-width="0.6"/>
<line x1="494.7" y1="672.52" x2="495.2" y2="672.52" stroke="#a4a4a4" stroke-width="0.6"/>
<line x1="494.7" y1="695.27" x2="503.8" y2="695.27" stroke="#a4a4a4" stroke-width="0.6"/>
<line x1="494.7" y1="672.52" x2="494.7" y2="695.27" stroke="#a4a4a4" stroke-width="0.6"/>
<line x1="494.2" y1="683.9" x2="494.7" y2="683.9" stroke="#a4a4a4" stroke-width="0.6"/>
<line x1="494.2" y1="707.01" x2="503.8" y2="707.01" stroke="#a4a4a4" stroke-width="0.6"/>
<line x1="494.2" y1="683.9" x2="494.2" y2="707.01" stroke="#a4a4a4" stroke-width="0.6"/>
<line x1="493.9" y1="695.45" x2="494.2" y2="695.45" stroke="#a4a4a4" stroke-width="0.6"/>
<line x1="493.9" y1="718.75" x2="503.8" y2="718.75" stroke="#a4a4a4" stroke-width="0.6"/>
<line x1="493.9" y1="695.45" x2="493.9" y2="718.75" stroke="#a4a4a4" stroke-width="0.6"/>
<line x1="493.6" y1="707.1" x2="493.9" y2="707.1" stroke="#a4a4a4" stroke-width="0.6"/>
<line x1="493.6" y1="730.49" x2="503.8" y2="730.49" stroke="#a4a4a4" stroke-width="0.6"/>
<line x1="493.6" y1="707.1" x2="493.6" y2="730.49" stroke="#a4a4a4" stroke-width="0.6"/>
<line x1="492.6" y1="718.8" x2="493.6" y2="718.8" stroke="#a4a4a4" stroke-width="0.6"/>
<line x1="492.6" y1="742.23" x2="503.8" y2="742.23" stroke="#a4a4a4" stroke-width="0.6"/>
<line x1="492.6" y1="718.8" x2="492.6" y2="742.23" stroke="#a4a4a4" stroke-width="0.6"/>
<line x1="495" y1="753.97" x2="503.8" y2="753.97" stroke="#a4a4a4" stroke-width="0.6"/>
<line x1="495" y1="765.71" x2="503.8" y2="765.71" stroke="#a4a4a4" stroke-width="0.6"/>
<line x1="495" y1="753.97" x2="495" y2="765.71" stroke="#a4a4a4" stroke-width="0.6"/>
<line x1="497.3" y1="777.45" x2="503.8" y2="777.45" stroke="#a4a4a4" stroke-width="0.6"/>
<line x1="497.3" y1="789.19" x2="503.8" y2="789.19" stroke="#a4a4a4" stroke-width="0.6"/>
<line x1="497.3" y1="777.45" x2="497.3" y2="789.19" stroke="#a4a4a4" stroke-width="0.6"/>
<line x1="496.3" y1="783.32" x2="497.3" y2="783.32" stroke="#a4a4a4" stroke-width="0.6"/>
<line x1="496.3" y1="800.93" x2="503.8" y2="800.93" stroke="#a4a4a4" stroke-width="0.6"/>
<line x1="496.3" y1="783.32" x2="496.3" y2="800.93" stroke="#a4a4a4" stroke-width="0.6"/>
<line x1="495.5" y1="792.12" x2="496.3" y2="792.12" stroke="#a4a4a4" stroke-width="0.6"/>
<line x1="495.5" y1="812.67" x2="503.8" y2="812.67" stroke="#a4a4a4" stroke-width="0.6"/>
<line x1="495.5" y1="792.12" x2="495.5" y2="812.67" stroke="#a4a4a4" stroke-width="0.6"/>
<line x1="494.2" y1="759.84" x2="495" y2="759.84" stroke="#a4a4a4" stroke-width="0.6"/>
<line x1="494.2" y1="802.4" x2="495.5" y2="802.4" stroke="#a4a4a4" stroke-width="0.6"/>
<line x1="494.2" y1="759.84" x2="494.2" y2="802.4" stroke="#a4a4a4" stroke-width="0.6"/>
<line x1="494.6" y1="824.41" x2="503.8" y2="824.41" stroke="#a4a4a4" stroke-width="0.6"/>
<line x1="494.6" y1="836.15" x2="503.8" y2="836.15" stroke="#a4a4a4" stroke-width="0.6"/>
<line x1="494.6" y1="824.41" x2="494.6" y2="836.15" stroke="#a4a4a4" stroke-width="0.6"/>
<line x1="493.6" y1="781.12" x2="494.2" y2="781.12" stroke="#a4a4a4" stroke-width="0.6"/>
<line x1="493.6" y1="830.28" x2="494.6" y2="830.28" stroke="#a4a4a4" stroke-width="0.6"/>
<line x1="493.6" y1="781.12" x2="493.6" y2="830.28" stroke="#a4a4a4" stroke-width="0.6"/>
<line x1="493" y1="805.7" x2="493.6" y2="805.7" stroke="#a4a4a4" stroke-width="0.6"/>
<line x1="493" y1="847.89" x2="503.8" y2="847.89" stroke="#a4a4a4" stroke-width="0.6"/>
<line x1="493" y1="805.7" x2="493" y2="847.89" stroke="#a4a4a4" stroke-width="0.6"/>
<line x1="492.4" y1="826.79" x2="493" y2="826.79" stroke="#a4a4a4" stroke-width="0.6"/>
<line x1="492.4" y1="859.63" x2="503.8" y2="859.63" stroke="#a4a4a4" stroke-width="0.6"/>
<line x1="492.4" y1="826.79" x2="492.4" y2="859.63" stroke="#a4a4a4" stroke-width="0.6"/>
<line x1="491.6" y1="730.51" x2="492.6" y2="730.51" stroke="#a4a4a4" stroke-width="0.6"/>
<line x1="491.6" y1="843.21" x2="492.4" y2="843.21" stroke="#a4a4a4" stroke-width="0.6"/>
<line x1="491.6" y1="730.51" x2="491.6" y2="843.21" stroke="#a4a4a4" stroke-width="0.6"/>
<defs><linearGradient id="cb" x1="0" y1="0" x2="0" y2="1"><stop offset="0" stop-color="#ff1a1a"/><stop offset="0.5" stop-color="#ffffff"/><stop offset="1" stop-color="#2a2aff"/></linearGradient></defs>
<rect x="673.2" y="719" width="7.9" height="47.1" fill="url(#cb)"/>
<text x="682.6" y="720.3" font-size="6.6" class="ss" font-weight="bold" fill="#151515">1</text>
<text x="682.6" y="732" font-size="6.6" class="ss" font-weight="bold" fill="#151515">0.5</text>
<text x="682.6" y="743.7" font-size="6.6" class="ss" font-weight="bold" fill="#151515">0</text>
<text x="682.6" y="755.4" font-size="6.6" class="ss" font-weight="bold" fill="#151515">-0.5</text>
<text x="682.6" y="766.6" font-size="6.6" class="ss" font-weight="bold" fill="#151515">-1</text>
<rect x="106.4" y="764.36" width="142.8" height="11.93" fill="#e8e8e8"/>
<rect x="268.2" y="764.36" width="137.1" height="11.93" fill="#e8e8e8"/>
<rect x="106.4" y="788.22" width="142.8" height="11.93" fill="#e8e8e8"/>
<rect x="268.2" y="788.22" width="137.1" height="11.93" fill="#e8e8e8"/>
<rect x="106.4" y="812.08" width="142.8" height="11.93" fill="#e8e8e8"/>
<rect x="268.2" y="812.08" width="137.1" height="11.93" fill="#e8e8e8"/>
<rect x="106.4" y="754.5" width="125.2" height="3.9" fill="#ff3399" stroke="#333" stroke-width="0.7"/>
<rect x="106.4" y="758.4" width="129.4" height="3.9" fill="#5ccdf2" stroke="#333" stroke-width="0.7"/>
<line x1="104" y1="758.4" x2="106.4" y2="758.4" stroke="#333" stroke-width="0.8"/>
<text x="101.3" y="761.2" font-size="7.87" text-anchor="end" class="ss" fill="#151515">Nucleotide Metabolism</text>
<rect x="106.4" y="766.43" width="109.2" height="3.9" fill="#ff3399" stroke="#333" stroke-width="0.7"/>
<rect x="106.4" y="770.33" width="114.4" height="3.9" fill="#5ccdf2" stroke="#333" stroke-width="0.7"/>
<line x1="104" y1="770.33" x2="106.4" y2="770.33" stroke="#333" stroke-width="0.8"/>
<text x="101.3" y="773.13" font-size="7.87" text-anchor="end" class="ss" fill="#151515">Translation</text>
<rect x="106.4" y="778.36" width="103.3" height="3.9" fill="#ff3399" stroke="#333" stroke-width="0.7"/>
<rect x="106.4" y="782.26" width="108.9" height="3.9" fill="#5ccdf2" stroke="#333" stroke-width="0.7"/>
<line x1="104" y1="782.26" x2="106.4" y2="782.26" stroke="#333" stroke-width="0.8"/>
<text x="101.3" y="785.06" font-size="7.87" text-anchor="end" class="ss" fill="#151515">Replication and Repair</text>
<rect x="106.4" y="790.29" width="50.5" height="3.9" fill="#ff3399" stroke="#333" stroke-width="0.7"/>
<rect x="106.4" y="794.19" width="47.1" height="3.9" fill="#5ccdf2" stroke="#333" stroke-width="0.7"/>
<line x1="104" y1="794.19" x2="106.4" y2="794.19" stroke="#333" stroke-width="0.8"/>
<text x="101.3" y="796.99" font-size="7.87" text-anchor="end" class="ss" fill="#151515">Lipid Metabolism</text>
<rect x="106.4" y="802.22" width="37" height="3.9" fill="#ff3399" stroke="#333" stroke-width="0.7"/>
<rect x="106.4" y="806.12" width="31.4" height="3.9" fill="#5ccdf2" stroke="#333" stroke-width="0.7"/>
<line x1="104" y1="806.12" x2="106.4" y2="806.12" stroke="#333" stroke-width="0.8"/>
<text x="101.3" y="808.92" font-size="7.87" text-anchor="end" class="ss" fill="#151515">Infectious Diseases</text>
<rect x="106.4" y="814.15" width="4" height="3.9" fill="#ff3399" stroke="#333" stroke-width="0.7"/>
<rect x="106.4" y="818.05" width="4.7" height="3.9" fill="#5ccdf2" stroke="#333" stroke-width="0.7"/>
<line x1="104" y1="818.05" x2="106.4" y2="818.05" stroke="#333" stroke-width="0.8"/>
<text x="101.3" y="820.85" font-size="7.87" text-anchor="end" class="ss" fill="#151515">Transcription</text>
<line x1="104" y1="829.98" x2="106.4" y2="829.98" stroke="#333" stroke-width="0.8"/>
<text x="101.3" y="832.78" font-size="7.87" text-anchor="end" class="ss" fill="#151515">Substance Dependence</text>
<line x1="106.4" y1="752.6" x2="106.4" y2="835.8" stroke="#333" stroke-width="1"/>
<line x1="106.4" y1="835.4" x2="249.2" y2="835.4" stroke="#333" stroke-width="0.9"/>
<line x1="106.4" y1="835.4" x2="106.4" y2="837.6" stroke="#333" stroke-width="0.8"/>
<text x="106.4" y="846" font-size="7.3" text-anchor="middle" class="ss" fill="#151515">0.00</text>
<line x1="199.7" y1="835.4" x2="199.7" y2="837.6" stroke="#333" stroke-width="0.8"/>
<text x="199.7" y="846" font-size="7.3" text-anchor="middle" class="ss" fill="#151515">0.05</text>
<text x="177.1" y="865.4" font-size="7.95" text-anchor="middle" class="ss" font-weight="bold" fill="#151515">Mean abundance(%)</text>
<rect x="18.1" y="743.3" width="4.8" height="4.5" fill="#ff3399"/>
<text x="25.8" y="747.9" font-size="7.6" class="ss" font-weight="bold" fill="#151515">HFD</text>
<rect x="46.4" y="743.3" width="4.8" height="4.5" fill="#5ccdf2"/>
<text x="53.8" y="747.9" font-size="7.6" class="ss" font-weight="bold" fill="#151515">NFD</text>
<line x1="336.7" y1="753.5" x2="336.7" y2="835.4" stroke="#777" stroke-width="0.9" stroke-dasharray="3.5 2"/>
<circle cx="309.3" cy="758.4" r="2.6" fill="#5ccdf2"/>
<line x1="292.1" y1="758.4" x2="326.8" y2="758.4" stroke="#555" stroke-width="0.8"/>
<line x1="292.1" y1="757.4" x2="292.1" y2="759.4" stroke="#555" stroke-width="0.8"/>
<line x1="326.8" y1="757.4" x2="326.8" y2="759.4" stroke="#555" stroke-width="0.8"/>
<circle cx="302.1" cy="770.33" r="2.6" fill="#5ccdf2"/>
<line x1="279.5" y1="770.33" x2="324.6" y2="770.33" stroke="#555" stroke-width="0.8"/>
<line x1="279.5" y1="769.33" x2="279.5" y2="771.33" stroke="#555" stroke-width="0.8"/>
<line x1="324.6" y1="769.33" x2="324.6" y2="771.33" stroke="#555" stroke-width="0.8"/>
<circle cx="301.5" cy="782.26" r="2.6" fill="#5ccdf2"/>
<line x1="274.8" y1="782.26" x2="328.6" y2="782.26" stroke="#555" stroke-width="0.8"/>
<line x1="274.8" y1="781.26" x2="274.8" y2="783.26" stroke="#555" stroke-width="0.8"/>
<line x1="328.6" y1="781.26" x2="328.6" y2="783.26" stroke="#555" stroke-width="0.8"/>
<circle cx="360.2" cy="794.19" r="2.6" fill="#ff3399"/>
<line x1="338.5" y1="794.19" x2="381.9" y2="794.19" stroke="#555" stroke-width="0.8"/>
<line x1="338.5" y1="793.19" x2="338.5" y2="795.19" stroke="#555" stroke-width="0.8"/>
<line x1="381.9" y1="793.19" x2="381.9" y2="795.19" stroke="#555" stroke-width="0.8"/>
<circle cx="372.1" cy="806.12" r="2.6" fill="#ff3399"/>
<line x1="340.4" y1="806.12" x2="403.6" y2="806.12" stroke="#555" stroke-width="0.8"/>
<line x1="340.4" y1="805.12" x2="340.4" y2="807.12" stroke="#555" stroke-width="0.8"/>
<line x1="403.6" y1="805.12" x2="403.6" y2="807.12" stroke="#555" stroke-width="0.8"/>
<circle cx="334.6" cy="818.05" r="2.6" fill="#5ccdf2"/>
<line x1="333.2" y1="818.05" x2="336" y2="818.05" stroke="#555" stroke-width="0.8"/>
<line x1="333.2" y1="817.05" x2="333.2" y2="819.05" stroke="#555" stroke-width="0.8"/>
<line x1="336" y1="817.05" x2="336" y2="819.05" stroke="#555" stroke-width="0.8"/>
<circle cx="336.7" cy="829.98" r="2.6" fill="#ff3399"/>
<line x1="336" y1="829.98" x2="337.4" y2="829.98" stroke="#555" stroke-width="0.8"/>
<line x1="336" y1="828.98" x2="336" y2="830.98" stroke="#555" stroke-width="0.8"/>
<line x1="337.4" y1="828.98" x2="337.4" y2="830.98" stroke="#555" stroke-width="0.8"/>
<line x1="268.2" y1="835.4" x2="413" y2="835.4" stroke="#555" stroke-width="0.9"/>
<line x1="289.8" y1="835.4" x2="289.8" y2="837.6" stroke="#333" stroke-width="0.8"/>
<text x="289.8" y="846.3" font-size="7.3" text-anchor="middle" class="ss" fill="#151515">-0.004</text>
<line x1="313.3" y1="835.4" x2="313.3" y2="837.6" stroke="#333" stroke-width="0.8"/>
<text x="313.3" y="846.3" font-size="7.3" text-anchor="middle" class="ss" fill="#151515">-0.002</text>
<line x1="336.7" y1="835.4" x2="336.7" y2="837.6" stroke="#333" stroke-width="0.8"/>
<text x="336.7" y="846.3" font-size="7.3" text-anchor="middle" class="ss" fill="#151515">0.000</text>
<line x1="360.6" y1="835.4" x2="360.6" y2="837.6" stroke="#333" stroke-width="0.8"/>
<text x="360.6" y="846.3" font-size="7.3" text-anchor="middle" class="ss" fill="#151515">0.002</text>
<line x1="383.9" y1="835.4" x2="383.9" y2="837.6" stroke="#333" stroke-width="0.8"/>
<text x="383.9" y="846.3" font-size="7.3" text-anchor="middle" class="ss" fill="#151515">0.004</text>
<line x1="407.5" y1="835.4" x2="407.5" y2="837.6" stroke="#333" stroke-width="0.8"/>
<text x="407.5" y="846.3" font-size="7.3" text-anchor="middle" class="ss" fill="#151515">0.006</text>
<line x1="405.3" y1="753.5" x2="405.3" y2="835.8" stroke="#333" stroke-width="1"/>
<line x1="405.3" y1="758.4" x2="407.6" y2="758.4" stroke="#333" stroke-width="0.8"/>
<text x="411.2" y="761.1" font-size="7.3" class="ss" fill="#151515">0.00810</text>
<line x1="405.3" y1="770.33" x2="407.6" y2="770.33" stroke="#333" stroke-width="0.8"/>
<text x="411.2" y="773.03" font-size="7.3" class="ss" fill="#151515">0.00852</text>
<line x1="405.3" y1="782.26" x2="407.6" y2="782.26" stroke="#333" stroke-width="0.8"/>
<text x="411.2" y="784.96" font-size="7.3" class="ss" fill="#151515">0.01923</text>
<line x1="405.3" y1="794.19" x2="407.6" y2="794.19" stroke="#333" stroke-width="0.8"/>
<text x="411.2" y="796.89" font-size="7.3" class="ss" fill="#151515">0.03420</text>
<line x1="405.3" y1="806.12" x2="407.6" y2="806.12" stroke="#333" stroke-width="0.8"/>
<text x="411.2" y="808.82" font-size="7.3" class="ss" fill="#151515">0.03560</text>
<line x1="405.3" y1="818.05" x2="407.6" y2="818.05" stroke="#333" stroke-width="0.8"/>
<text x="411.2" y="820.75" font-size="7.3" class="ss" fill="#151515">0.00817</text>
<line x1="405.3" y1="829.98" x2="407.6" y2="829.98" stroke="#333" stroke-width="0.8"/>
<text x="411.2" y="832.68" font-size="7.3" class="ss" fill="#151515">0.03294</text>
<text x="354" y="747.4" font-size="7.92" text-anchor="middle" class="ss" font-weight="bold" fill="#151515">95% confidence intervals</text>
<text x="354" y="865.4" font-size="7.9" text-anchor="middle" class="ss" font-weight="bold" fill="#151515">Difference in mean proportions(%)</text>
<text x="454.6" y="804.2" font-size="7.6" text-anchor="middle" class="ss" font-weight="bold" fill="#151515" transform="rotate(-90 454.6 804.2)">p-value</text>
</svg>
</body></html>
